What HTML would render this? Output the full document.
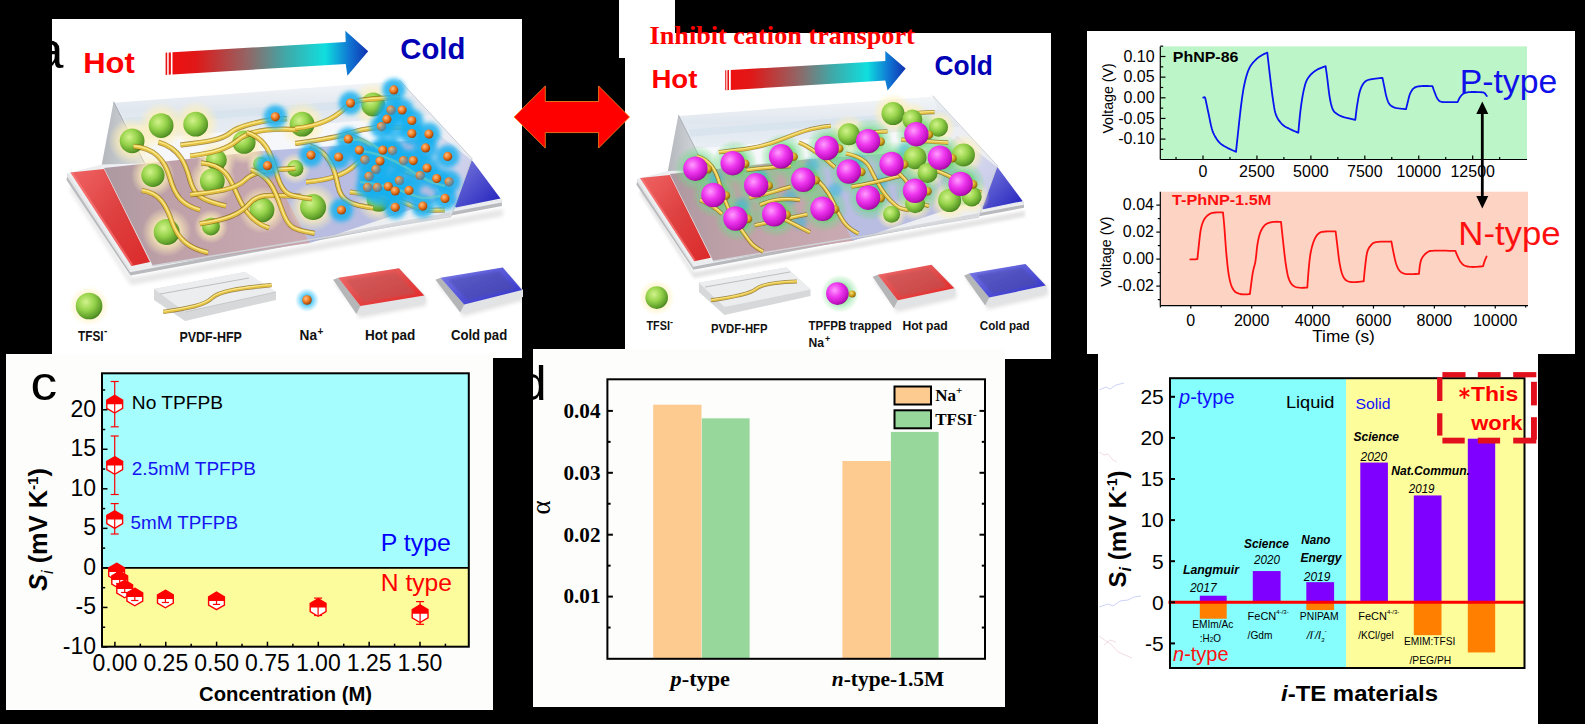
<!DOCTYPE html>
<html><head><meta charset="utf-8"><title>Figure</title>
<style>html,body{margin:0;padding:0;background:#000;width:1585px;height:724px;overflow:hidden}svg{display:block}text{white-space:pre}</style>
</head><body>
<svg width="1585" height="724" viewBox="0 0 1585 724"><rect x="0.00" y="0.00" width="1585.00" height="724.00" fill="#000" />
<rect x="52.00" y="19.00" width="470.00" height="339.00" fill="#fff" />
<rect x="619.00" y="0.00" width="56.00" height="58.00" fill="#fff" />
<rect x="625.00" y="33.00" width="426.00" height="326.00" fill="#fff" />
<rect x="1087.00" y="31.00" width="488.00" height="323.00" fill="#fff" />
<rect x="6.00" y="354.00" width="487.00" height="356.00" fill="#fdfdfb" />
<rect x="533.00" y="349.00" width="472.00" height="358.00" fill="#fdfdfb" />
<rect x="1098.00" y="354.00" width="440.00" height="370.00" fill="#fff" />
<rect x="102.00" y="373.30" width="366.80" height="194.60" fill="#a6fdfd" />
<rect x="102.00" y="567.90" width="366.80" height="78.80" fill="#fcfc9c" />
<line x1="102.00" y1="567.90" x2="468.80" y2="567.90" stroke="#000" stroke-width="1.7" />
<line x1="102.00" y1="646.98" x2="107.50" y2="646.98" stroke="#000" stroke-width="1.5" />
<text x="96.0" y="654.0" font-family="Liberation Sans" font-size="23" fill="#000" text-anchor="end">-10</text>
<line x1="102.00" y1="607.44" x2="107.50" y2="607.44" stroke="#000" stroke-width="1.5" />
<text x="96.0" y="614.4" font-family="Liberation Sans" font-size="23" fill="#000" text-anchor="end">-5</text>
<line x1="102.00" y1="567.90" x2="107.50" y2="567.90" stroke="#000" stroke-width="1.5" />
<text x="96.0" y="574.9" font-family="Liberation Sans" font-size="23" fill="#000" text-anchor="end">0</text>
<line x1="102.00" y1="528.36" x2="107.50" y2="528.36" stroke="#000" stroke-width="1.5" />
<text x="96.0" y="535.4" font-family="Liberation Sans" font-size="23" fill="#000" text-anchor="end">5</text>
<line x1="102.00" y1="488.82" x2="107.50" y2="488.82" stroke="#000" stroke-width="1.5" />
<text x="96.0" y="495.8" font-family="Liberation Sans" font-size="23" fill="#000" text-anchor="end">10</text>
<line x1="102.00" y1="449.28" x2="107.50" y2="449.28" stroke="#000" stroke-width="1.5" />
<text x="96.0" y="456.3" font-family="Liberation Sans" font-size="23" fill="#000" text-anchor="end">15</text>
<line x1="102.00" y1="409.74" x2="107.50" y2="409.74" stroke="#000" stroke-width="1.5" />
<text x="96.0" y="416.7" font-family="Liberation Sans" font-size="23" fill="#000" text-anchor="end">20</text>
<line x1="102.00" y1="627.21" x2="105.20" y2="627.21" stroke="#000" stroke-width="1.5" />
<line x1="102.00" y1="587.67" x2="105.20" y2="587.67" stroke="#000" stroke-width="1.5" />
<line x1="102.00" y1="548.13" x2="105.20" y2="548.13" stroke="#000" stroke-width="1.5" />
<line x1="102.00" y1="508.59" x2="105.20" y2="508.59" stroke="#000" stroke-width="1.5" />
<line x1="102.00" y1="469.05" x2="105.20" y2="469.05" stroke="#000" stroke-width="1.5" />
<line x1="102.00" y1="429.51" x2="105.20" y2="429.51" stroke="#000" stroke-width="1.5" />
<line x1="102.00" y1="389.97" x2="105.20" y2="389.97" stroke="#000" stroke-width="1.5" />
<line x1="114.90" y1="646.70" x2="114.90" y2="641.70" stroke="#000" stroke-width="1.5" />
<text x="114.9" y="671.0" font-family="Liberation Sans" font-size="23" fill="#000" text-anchor="middle">0.00</text>
<line x1="165.75" y1="646.70" x2="165.75" y2="641.70" stroke="#000" stroke-width="1.5" />
<text x="165.8" y="671.0" font-family="Liberation Sans" font-size="23" fill="#000" text-anchor="middle">0.25</text>
<line x1="216.60" y1="646.70" x2="216.60" y2="641.70" stroke="#000" stroke-width="1.5" />
<text x="216.6" y="671.0" font-family="Liberation Sans" font-size="23" fill="#000" text-anchor="middle">0.50</text>
<line x1="267.45" y1="646.70" x2="267.45" y2="641.70" stroke="#000" stroke-width="1.5" />
<text x="267.5" y="671.0" font-family="Liberation Sans" font-size="23" fill="#000" text-anchor="middle">0.75</text>
<line x1="318.30" y1="646.70" x2="318.30" y2="641.70" stroke="#000" stroke-width="1.5" />
<text x="318.3" y="671.0" font-family="Liberation Sans" font-size="23" fill="#000" text-anchor="middle">1.00</text>
<line x1="369.15" y1="646.70" x2="369.15" y2="641.70" stroke="#000" stroke-width="1.5" />
<text x="369.1" y="671.0" font-family="Liberation Sans" font-size="23" fill="#000" text-anchor="middle">1.25</text>
<line x1="420.00" y1="646.70" x2="420.00" y2="641.70" stroke="#000" stroke-width="1.5" />
<text x="420.0" y="671.0" font-family="Liberation Sans" font-size="23" fill="#000" text-anchor="middle">1.50</text>
<line x1="140.33" y1="646.70" x2="140.33" y2="643.70" stroke="#000" stroke-width="1.5" />
<line x1="191.18" y1="646.70" x2="191.18" y2="643.70" stroke="#000" stroke-width="1.5" />
<line x1="242.03" y1="646.70" x2="242.03" y2="643.70" stroke="#000" stroke-width="1.5" />
<line x1="292.88" y1="646.70" x2="292.88" y2="643.70" stroke="#000" stroke-width="1.5" />
<line x1="343.73" y1="646.70" x2="343.73" y2="643.70" stroke="#000" stroke-width="1.5" />
<line x1="394.58" y1="646.70" x2="394.58" y2="643.70" stroke="#000" stroke-width="1.5" />
<line x1="445.43" y1="646.70" x2="445.43" y2="643.70" stroke="#000" stroke-width="1.5" />
<rect x="102.0" y="373.3" width="366.8" height="273.4" fill="none" stroke="#000" stroke-width="2"/>
<line x1="110.70" y1="381.50" x2="118.70" y2="381.50" stroke="#ff0000" stroke-width="1.2" />
<line x1="110.70" y1="426.80" x2="118.70" y2="426.80" stroke="#ff0000" stroke-width="1.2" />
<polygon points="114.7,395.4 122.6,400.1 122.6,408.3 114.7,413.0 106.8,408.3 106.8,400.1" fill="#fff" stroke="#ff0000" stroke-width="1.4"/>
<polygon points="114.7,395.4 122.6,400.1 122.6,404.2 106.8,404.2 106.8,400.1" fill="#ff0000" />
<line x1="114.70" y1="381.50" x2="114.70" y2="426.80" stroke="#ff0000" stroke-width="1.2" />
<line x1="110.70" y1="436.00" x2="118.70" y2="436.00" stroke="#ff0000" stroke-width="1.2" />
<line x1="110.70" y1="494.50" x2="118.70" y2="494.50" stroke="#ff0000" stroke-width="1.2" />
<polygon points="114.7,456.7 122.6,461.4 122.6,469.6 114.7,474.3 106.8,469.6 106.8,461.4" fill="#fff" stroke="#ff0000" stroke-width="1.4"/>
<polygon points="114.7,456.7 122.6,461.4 122.6,465.5 106.8,465.5 106.8,461.4" fill="#ff0000" />
<line x1="114.70" y1="436.00" x2="114.70" y2="494.50" stroke="#ff0000" stroke-width="1.2" />
<line x1="110.70" y1="503.60" x2="118.70" y2="503.60" stroke="#ff0000" stroke-width="1.2" />
<line x1="110.70" y1="534.00" x2="118.70" y2="534.00" stroke="#ff0000" stroke-width="1.2" />
<polygon points="114.7,510.8 122.6,515.5 122.6,523.7 114.7,528.4 106.8,523.7 106.8,515.5" fill="#fff" stroke="#ff0000" stroke-width="1.4"/>
<polygon points="114.7,510.8 122.6,515.5 122.6,519.6 106.8,519.6 106.8,515.5" fill="#ff0000" />
<line x1="114.70" y1="503.60" x2="114.70" y2="534.00" stroke="#ff0000" stroke-width="1.2" />
<polygon points="116.6,563.2 124.5,567.9 124.5,576.1 116.6,580.8 108.7,576.1 108.7,567.9" fill="#fff" stroke="#ff0000" stroke-width="1.4"/>
<polygon points="116.6,563.2 124.5,567.9 124.5,572.0 108.7,572.0 108.7,567.9" fill="#ff0000" />
<line x1="116.60" y1="572.00" x2="116.60" y2="575.50" stroke="#ff0000" stroke-width="1.2" />
<line x1="113.00" y1="575.50" x2="120.20" y2="575.50" stroke="#ff0000" stroke-width="1.2" />
<polygon points="119.7,571.2 127.6,575.9 127.6,584.1 119.7,588.8 111.8,584.1 111.8,575.9" fill="#fff" stroke="#ff0000" stroke-width="1.4"/>
<polygon points="119.7,571.2 127.6,575.9 127.6,580.0 111.8,580.0 111.8,575.9" fill="#ff0000" />
<line x1="119.70" y1="580.00" x2="119.70" y2="583.50" stroke="#ff0000" stroke-width="1.2" />
<line x1="116.10" y1="583.50" x2="123.30" y2="583.50" stroke="#ff0000" stroke-width="1.2" />
<polygon points="124.7,580.2 132.6,584.9 132.6,593.1 124.7,597.8 116.8,593.1 116.8,584.9" fill="#fff" stroke="#ff0000" stroke-width="1.4"/>
<polygon points="124.7,580.2 132.6,584.9 132.6,589.0 116.8,589.0 116.8,584.9" fill="#ff0000" />
<line x1="124.70" y1="589.00" x2="124.70" y2="592.50" stroke="#ff0000" stroke-width="1.2" />
<line x1="121.10" y1="592.50" x2="128.30" y2="592.50" stroke="#ff0000" stroke-width="1.2" />
<polygon points="134.8,588.2 142.7,592.9 142.7,601.1 134.8,605.8 126.9,601.1 126.9,592.9" fill="#fff" stroke="#ff0000" stroke-width="1.4"/>
<polygon points="134.8,588.2 142.7,592.9 142.7,597.0 126.9,597.0 126.9,592.9" fill="#ff0000" />
<line x1="134.80" y1="597.00" x2="134.80" y2="600.50" stroke="#ff0000" stroke-width="1.2" />
<line x1="131.20" y1="600.50" x2="138.40" y2="600.50" stroke="#ff0000" stroke-width="1.2" />
<polygon points="165.4,590.2 173.3,594.9 173.3,603.1 165.4,607.8 157.5,603.1 157.5,594.9" fill="#fff" stroke="#ff0000" stroke-width="1.4"/>
<polygon points="165.4,590.2 173.3,594.9 173.3,599.0 157.5,599.0 157.5,594.9" fill="#ff0000" />
<line x1="165.40" y1="599.00" x2="165.40" y2="602.50" stroke="#ff0000" stroke-width="1.2" />
<line x1="161.80" y1="602.50" x2="169.00" y2="602.50" stroke="#ff0000" stroke-width="1.2" />
<polygon points="216.5,592.1 224.4,596.8 224.4,605.0 216.5,609.7 208.6,605.0 208.6,596.8" fill="#fff" stroke="#ff0000" stroke-width="1.4"/>
<polygon points="216.5,592.1 224.4,596.8 224.4,600.9 208.6,600.9 208.6,596.8" fill="#ff0000" />
<line x1="216.50" y1="600.90" x2="216.50" y2="604.40" stroke="#ff0000" stroke-width="1.2" />
<line x1="212.90" y1="604.40" x2="220.10" y2="604.40" stroke="#ff0000" stroke-width="1.2" />
<line x1="314.10" y1="598.10" x2="322.10" y2="598.10" stroke="#ff0000" stroke-width="1.2" />
<line x1="314.10" y1="615.50" x2="322.10" y2="615.50" stroke="#ff0000" stroke-width="1.2" />
<polygon points="318.1,598.7 326.0,603.4 326.0,611.6 318.1,616.3 310.2,611.6 310.2,603.4" fill="#fff" stroke="#ff0000" stroke-width="1.4"/>
<polygon points="318.1,598.7 326.0,603.4 326.0,607.5 310.2,607.5 310.2,603.4" fill="#ff0000" />
<line x1="318.10" y1="598.10" x2="318.10" y2="615.50" stroke="#ff0000" stroke-width="1.2" />
<line x1="416.10" y1="601.60" x2="424.10" y2="601.60" stroke="#ff0000" stroke-width="1.2" />
<line x1="416.10" y1="624.30" x2="424.10" y2="624.30" stroke="#ff0000" stroke-width="1.2" />
<polygon points="420.1,604.9 428.0,609.6 428.0,617.8 420.1,622.5 412.2,617.8 412.2,609.6" fill="#fff" stroke="#ff0000" stroke-width="1.4"/>
<polygon points="420.1,604.9 428.0,609.6 428.0,613.7 412.2,613.7 412.2,609.6" fill="#ff0000" />
<line x1="420.10" y1="601.60" x2="420.10" y2="624.30" stroke="#ff0000" stroke-width="1.2" />
<text x="131.8" y="409.0" font-family="Liberation Sans" font-size="18" fill="#000" textLength="91.2" lengthAdjust="spacingAndGlyphs">No TPFPB</text>
<text x="131.8" y="474.6" font-family="Liberation Sans" font-size="18" fill="#1414f0" textLength="124.2" lengthAdjust="spacingAndGlyphs">2.5mM TPFPB</text>
<text x="130.5" y="528.5" font-family="Liberation Sans" font-size="18" fill="#1414f0" textLength="107.5" lengthAdjust="spacingAndGlyphs">5mM TPFPB</text>
<text x="380.8" y="550.9" font-family="Liberation Sans" font-size="24" fill="#0000ff" textLength="70.0" lengthAdjust="spacingAndGlyphs">P type</text>
<text x="380.8" y="591.3" font-family="Liberation Sans" font-size="24" fill="#ff0000" textLength="71.2" lengthAdjust="spacingAndGlyphs">N type</text>
<text x="30.4" y="400.3" font-family="Liberation Sans" font-size="49" fill="#000" textLength="26.7" lengthAdjust="spacingAndGlyphs">c</text>
<text x="285.6" y="700.8" font-family="Liberation Sans" font-size="20.8" fill="#000" font-weight="bold" text-anchor="middle" textLength="173.0" lengthAdjust="spacingAndGlyphs">Concentration (M)</text>
<text transform="translate(47.3,529.5) rotate(-90)" text-anchor="middle" font-family="Liberation Sans" font-weight="bold" font-size="25" fill="#000" textLength="123" lengthAdjust="spacingAndGlyphs"><tspan font-style="italic">S</tspan><tspan font-style="italic" font-weight="normal" font-size="16" dy="6">i</tspan><tspan dy="-6"> (mV K</tspan><tspan font-size="15" dy="-9">-1</tspan><tspan dy="9">)</tspan></text>
<rect x="607.4" y="379.3" width="377.6" height="279.5" fill="#fdfdfb" stroke="none"/>
<rect x="653.20" y="404.71" width="48.30" height="254.09" fill="#fdca90" />
<rect x="701.90" y="418.33" width="47.70" height="240.47" fill="#97d79b" />
<rect x="842.40" y="461.00" width="48.20" height="197.80" fill="#fdca90" />
<rect x="890.90" y="431.90" width="47.70" height="226.90" fill="#97d79b" />
<rect x="607.4" y="379.3" width="377.6" height="279.5" fill="none" stroke="#000" stroke-width="2"/>
<line x1="607.40" y1="596.60" x2="612.90" y2="596.60" stroke="#000" stroke-width="2" />
<line x1="985.00" y1="596.60" x2="979.50" y2="596.60" stroke="#000" stroke-width="2" />
<text x="600.5" y="603.4" font-family="Liberation Serif" font-size="20.5" fill="#000" font-weight="bold" text-anchor="end" textLength="37.0" lengthAdjust="spacingAndGlyphs">0.01</text>
<line x1="607.40" y1="534.70" x2="612.90" y2="534.70" stroke="#000" stroke-width="2" />
<line x1="985.00" y1="534.70" x2="979.50" y2="534.70" stroke="#000" stroke-width="2" />
<text x="600.5" y="541.5" font-family="Liberation Serif" font-size="20.5" fill="#000" font-weight="bold" text-anchor="end" textLength="37.0" lengthAdjust="spacingAndGlyphs">0.02</text>
<line x1="607.40" y1="472.80" x2="612.90" y2="472.80" stroke="#000" stroke-width="2" />
<line x1="985.00" y1="472.80" x2="979.50" y2="472.80" stroke="#000" stroke-width="2" />
<text x="600.5" y="479.6" font-family="Liberation Serif" font-size="20.5" fill="#000" font-weight="bold" text-anchor="end" textLength="37.0" lengthAdjust="spacingAndGlyphs">0.03</text>
<line x1="607.40" y1="410.90" x2="612.90" y2="410.90" stroke="#000" stroke-width="2" />
<line x1="985.00" y1="410.90" x2="979.50" y2="410.90" stroke="#000" stroke-width="2" />
<text x="600.5" y="417.7" font-family="Liberation Serif" font-size="20.5" fill="#000" font-weight="bold" text-anchor="end" textLength="37.0" lengthAdjust="spacingAndGlyphs">0.04</text>
<line x1="607.40" y1="627.55" x2="610.60" y2="627.55" stroke="#000" stroke-width="2" />
<line x1="985.00" y1="627.55" x2="981.80" y2="627.55" stroke="#000" stroke-width="2" />
<line x1="607.40" y1="565.65" x2="610.60" y2="565.65" stroke="#000" stroke-width="2" />
<line x1="985.00" y1="565.65" x2="981.80" y2="565.65" stroke="#000" stroke-width="2" />
<line x1="607.40" y1="503.75" x2="610.60" y2="503.75" stroke="#000" stroke-width="2" />
<line x1="985.00" y1="503.75" x2="981.80" y2="503.75" stroke="#000" stroke-width="2" />
<line x1="607.40" y1="441.85" x2="610.60" y2="441.85" stroke="#000" stroke-width="2" />
<line x1="985.00" y1="441.85" x2="981.80" y2="441.85" stroke="#000" stroke-width="2" />
<rect x="894.5" y="386.5" width="36.5" height="18" fill="#fdca90" stroke="#000" stroke-width="2"/>
<rect x="894.5" y="410.3" width="36.5" height="18" fill="#97d79b" stroke="#000" stroke-width="2"/>
<text x="935.2" y="401.2" font-family="Liberation Serif" font-weight="bold" font-size="17" fill="#000">Na<tspan font-size="11" dy="-7">+</tspan></text>
<text x="935.2" y="424.5" font-family="Liberation Serif" font-weight="bold" font-size="17" fill="#000">TFSI<tspan font-size="11" dy="-7">-</tspan></text>
<text x="670.6" y="685.6" font-family="Liberation Serif" font-weight="bold" font-size="21" fill="#000" textLength="59.4" lengthAdjust="spacingAndGlyphs"><tspan font-style="italic">p</tspan>-type</text>
<text x="831.8" y="685.6" font-family="Liberation Serif" font-weight="bold" font-size="21" fill="#000" textLength="112.4" lengthAdjust="spacingAndGlyphs"><tspan font-style="italic">n</tspan>-type-1.5M</text>
<text transform="translate(550,507.5) rotate(-90)" text-anchor="middle" font-family="Liberation Serif" font-size="27" fill="#000">α</text>
<text x="519.2" y="400.0" font-family="Liberation Sans" font-size="49" fill="#000">d</text>
<rect x="1170.00" y="378.20" width="176.00" height="289.80" fill="#86fefe" />
<rect x="1346.00" y="378.20" width="178.50" height="289.80" fill="#fdfd9c" />
<rect x="1199.80" y="595.72" width="26.90" height="6.58" fill="#8000ff" />
<rect x="1199.80" y="602.30" width="26.90" height="16.44" fill="#ff8000" />
<rect x="1252.80" y="571.06" width="27.80" height="31.24" fill="#8000ff" />
<rect x="1306.30" y="582.16" width="27.80" height="20.14" fill="#8000ff" />
<rect x="1306.30" y="602.30" width="27.80" height="7.81" fill="#ff8000" />
<rect x="1360.30" y="462.56" width="27.60" height="139.74" fill="#8000ff" />
<rect x="1413.80" y="495.44" width="27.70" height="106.86" fill="#8000ff" />
<rect x="1413.80" y="602.30" width="27.70" height="32.88" fill="#ff8000" />
<rect x="1467.80" y="438.72" width="27.40" height="163.58" fill="#8000ff" />
<rect x="1467.80" y="602.30" width="27.40" height="50.14" fill="#ff8000" />
<line x1="1168.50" y1="602.30" x2="1524.50" y2="602.30" stroke="#ff0000" stroke-width="3" />
<rect x="1170.0" y="378.2" width="354.5" height="289.8" fill="none" stroke="#000" stroke-width="2"/>
<line x1="1170.00" y1="643.40" x2="1175.00" y2="643.40" stroke="#000" stroke-width="2" />
<text x="1163.8" y="650.7" font-family="Liberation Sans" font-size="21" fill="#000" text-anchor="end">-5</text>
<line x1="1170.00" y1="602.30" x2="1175.00" y2="602.30" stroke="#000" stroke-width="2" />
<text x="1163.8" y="609.6" font-family="Liberation Sans" font-size="21" fill="#000" text-anchor="end">0</text>
<line x1="1170.00" y1="561.20" x2="1175.00" y2="561.20" stroke="#000" stroke-width="2" />
<text x="1163.8" y="568.5" font-family="Liberation Sans" font-size="21" fill="#000" text-anchor="end">5</text>
<line x1="1170.00" y1="520.10" x2="1175.00" y2="520.10" stroke="#000" stroke-width="2" />
<text x="1163.8" y="527.4" font-family="Liberation Sans" font-size="21" fill="#000" text-anchor="end">10</text>
<line x1="1170.00" y1="479.00" x2="1175.00" y2="479.00" stroke="#000" stroke-width="2" />
<text x="1163.8" y="486.3" font-family="Liberation Sans" font-size="21" fill="#000" text-anchor="end">15</text>
<line x1="1170.00" y1="437.90" x2="1175.00" y2="437.90" stroke="#000" stroke-width="2" />
<text x="1163.8" y="445.2" font-family="Liberation Sans" font-size="21" fill="#000" text-anchor="end">20</text>
<line x1="1170.00" y1="396.80" x2="1175.00" y2="396.80" stroke="#000" stroke-width="2" />
<text x="1163.8" y="404.1" font-family="Liberation Sans" font-size="21" fill="#000" text-anchor="end">25</text>
<text x="1179" y="404.2" font-family="Liberation Sans" font-size="20" fill="#1010ff"><tspan font-style="italic">p</tspan>-type</text>
<text x="1173" y="661.3" font-family="Liberation Sans" font-size="20" fill="#ff1010"><tspan font-style="italic">n</tspan>-type</text>
<text x="1285.9" y="407.7" font-family="Liberation Sans" font-size="17" fill="#000" textLength="48.6" lengthAdjust="spacingAndGlyphs">Liquid</text>
<text x="1355.6" y="408.8" font-family="Liberation Sans" font-size="15.5" fill="#1010ff" textLength="35.0" lengthAdjust="spacingAndGlyphs">Solid</text>
<text x="1182.9" y="573.5" font-family="Liberation Sans" font-size="12.5" fill="#000" font-weight="bold" font-style="italic" textLength="56.2" lengthAdjust="spacingAndGlyphs">Langmuir</text>
<text x="1189.9" y="592.1" font-family="Liberation Sans" font-size="12.5" fill="#000" font-style="italic" textLength="26.8" lengthAdjust="spacingAndGlyphs">2017</text>
<text x="1244.0" y="547.9" font-family="Liberation Sans" font-size="12.5" fill="#000" font-weight="bold" font-style="italic" textLength="44.9" lengthAdjust="spacingAndGlyphs">Science</text>
<text x="1254.0" y="563.5" font-family="Liberation Sans" font-size="12.5" fill="#000" font-style="italic" textLength="25.9" lengthAdjust="spacingAndGlyphs">2020</text>
<text x="1301.3" y="543.6" font-family="Liberation Sans" font-size="12.5" fill="#000" font-weight="bold" font-style="italic" textLength="29.1" lengthAdjust="spacingAndGlyphs">Nano</text>
<text x="1300.5" y="562.3" font-family="Liberation Sans" font-size="12.5" fill="#000" font-weight="bold" font-style="italic" textLength="41.1" lengthAdjust="spacingAndGlyphs">Energy</text>
<text x="1303.8" y="581.0" font-family="Liberation Sans" font-size="12.5" fill="#000" font-style="italic" textLength="26.6" lengthAdjust="spacingAndGlyphs">2019</text>
<text x="1353.6" y="441.4" font-family="Liberation Sans" font-size="12.5" fill="#000" font-weight="bold" font-style="italic" textLength="45.4" lengthAdjust="spacingAndGlyphs">Science</text>
<text x="1360.5" y="460.6" font-family="Liberation Sans" font-size="12.5" fill="#000" font-style="italic" textLength="26.7" lengthAdjust="spacingAndGlyphs">2020</text>
<text x="1391.2" y="474.5" font-family="Liberation Sans" font-size="12.5" fill="#000" font-weight="bold" font-style="italic" textLength="78.7" lengthAdjust="spacingAndGlyphs">Nat.Commun.</text>
<text x="1408.8" y="492.8" font-family="Liberation Sans" font-size="12.5" fill="#000" font-style="italic" textLength="25.7" lengthAdjust="spacingAndGlyphs">2019</text>
<text x="1192.3" y="628.2" font-family="Liberation Sans" font-size="11" fill="#000" textLength="41.1" lengthAdjust="spacingAndGlyphs">EMIm/Ac</text>
<text x="1199.8" y="642.4" font-family="Liberation Sans" font-size="11" fill="#000" textLength="21.2" lengthAdjust="spacingAndGlyphs">:H<tspan font-size="7">2</tspan>O</text>
<text x="1247.6" y="620" font-family="Liberation Sans" font-size="11" fill="#000">FeCN<tspan font-size="6" dy="-6">4-/3-</tspan></text>
<text x="1247.6" y="639.0" font-family="Liberation Sans" font-size="11" fill="#000" textLength="24.8" lengthAdjust="spacingAndGlyphs">/Gdm</text>
<text x="1299.8" y="619.5" font-family="Liberation Sans" font-size="11" fill="#000" textLength="38.8" lengthAdjust="spacingAndGlyphs">PNIPAM</text>
<text x="1306.8" y="639" font-family="Liberation Sans" font-size="11" font-style="italic" fill="#000">/I<tspan font-size="6" dy="-6">-</tspan><tspan dy="6">/I</tspan><tspan font-size="6" dy="3">3</tspan><tspan font-size="6" dy="-9">-</tspan></text>
<text x="1358.2" y="620" font-family="Liberation Sans" font-size="11" fill="#000">FeCN<tspan font-size="6" dy="-6">4-/3-</tspan></text>
<text x="1358.2" y="638.6" font-family="Liberation Sans" font-size="11" fill="#000" textLength="35.5" lengthAdjust="spacingAndGlyphs">/KCl/gel</text>
<text x="1404.0" y="645.0" font-family="Liberation Sans" font-size="11" fill="#000" textLength="51.4" lengthAdjust="spacingAndGlyphs">EMIM:TFSI</text>
<text x="1409.5" y="663.5" font-family="Liberation Sans" font-size="11" fill="#000" textLength="41.7" lengthAdjust="spacingAndGlyphs">/PEG/PH</text>
<text x="1471.0" y="401.2" font-family="Liberation Sans" font-size="21" fill="#ff0000" font-weight="bold" textLength="47.2" lengthAdjust="spacingAndGlyphs">This</text>
<line x1="1464.40" y1="387.60" x2="1464.40" y2="398.80" stroke="#ff0000" stroke-width="1.9" />
<line x1="1459.55" y1="390.40" x2="1469.25" y2="396.00" stroke="#ff0000" stroke-width="1.9" />
<line x1="1469.25" y1="390.40" x2="1459.55" y2="396.00" stroke="#ff0000" stroke-width="1.9" />
<text x="1471.2" y="429.8" font-family="Liberation Sans" font-size="21" fill="#ff0000" font-weight="bold" textLength="51.2" lengthAdjust="spacingAndGlyphs">work</text>
<rect x="1442.40" y="372.10" width="23.10" height="5.20" fill="#e2101c" />
<rect x="1477.80" y="372.10" width="22.80" height="5.20" fill="#e2101c" />
<rect x="1513.20" y="372.10" width="23.10" height="5.20" fill="#e2101c" />
<rect x="1437.10" y="377.30" width="5.30" height="23.70" fill="#e2101c" />
<rect x="1437.10" y="413.30" width="5.30" height="22.30" fill="#e2101c" />
<rect x="1442.40" y="437.70" width="22.30" height="5.80" fill="#e2101c" />
<rect x="1477.80" y="437.70" width="22.30" height="5.80" fill="#e2101c" />
<rect x="1513.20" y="437.70" width="23.10" height="5.80" fill="#e2101c" />
<rect x="1531.00" y="381.80" width="5.90" height="23.60" fill="#e2101c" />
<rect x="1531.00" y="417.20" width="5.90" height="22.40" fill="#e2101c" />
<text x="1281.0" y="700.5" font-family="Liberation Sans" font-size="22" fill="#000" font-weight="bold" textLength="157.0" lengthAdjust="spacingAndGlyphs"><tspan font-style="italic">i</tspan>-TE materials</text>
<text transform="translate(1125.5,529) rotate(-90)" text-anchor="middle" font-family="Liberation Sans" font-weight="bold" font-size="24" fill="#000" textLength="117" lengthAdjust="spacingAndGlyphs">S<tspan font-style="italic" font-size="16" dy="5">i</tspan><tspan dy="-5"> (mV K</tspan><tspan font-size="14" dy="-9">-1</tspan><tspan dy="9">)</tspan></text>
<rect x="1160.30" y="46.40" width="366.70" height="113.10" fill="#bcf5c8" />
<line x1="1160.30" y1="46.40" x2="1160.30" y2="159.50" stroke="#000" stroke-width="1.2" />
<line x1="1160.30" y1="159.50" x2="1527.00" y2="159.50" stroke="#000" stroke-width="1.2" />
<line x1="1160.30" y1="139.10" x2="1165.50" y2="139.10" stroke="#000" stroke-width="1.2" />
<text x="1154.6" y="144.3" font-family="Liberation Sans" font-size="16" fill="#000" text-anchor="end">-0.10</text>
<line x1="1160.30" y1="118.45" x2="1165.50" y2="118.45" stroke="#000" stroke-width="1.2" />
<text x="1154.6" y="123.7" font-family="Liberation Sans" font-size="16" fill="#000" text-anchor="end">-0.05</text>
<line x1="1160.30" y1="97.80" x2="1165.50" y2="97.80" stroke="#000" stroke-width="1.2" />
<text x="1154.6" y="103.0" font-family="Liberation Sans" font-size="16" fill="#000" text-anchor="end">0.00</text>
<line x1="1160.30" y1="77.15" x2="1165.50" y2="77.15" stroke="#000" stroke-width="1.2" />
<text x="1154.6" y="82.3" font-family="Liberation Sans" font-size="16" fill="#000" text-anchor="end">0.05</text>
<line x1="1160.30" y1="56.50" x2="1165.50" y2="56.50" stroke="#000" stroke-width="1.2" />
<text x="1154.6" y="61.7" font-family="Liberation Sans" font-size="16" fill="#000" text-anchor="end">0.10</text>
<line x1="1160.30" y1="149.43" x2="1163.20" y2="149.43" stroke="#000" stroke-width="1.2" />
<line x1="1160.30" y1="128.78" x2="1163.20" y2="128.78" stroke="#000" stroke-width="1.2" />
<line x1="1160.30" y1="108.12" x2="1163.20" y2="108.12" stroke="#000" stroke-width="1.2" />
<line x1="1160.30" y1="87.47" x2="1163.20" y2="87.47" stroke="#000" stroke-width="1.2" />
<line x1="1160.30" y1="66.83" x2="1163.20" y2="66.83" stroke="#000" stroke-width="1.2" />
<line x1="1160.30" y1="46.17" x2="1163.20" y2="46.17" stroke="#000" stroke-width="1.2" />
<line x1="1203.00" y1="159.50" x2="1203.00" y2="155.50" stroke="#000" stroke-width="1.2" />
<text x="1203.0" y="176.5" font-family="Liberation Sans" font-size="16" fill="#000" text-anchor="middle">0</text>
<line x1="1256.94" y1="159.50" x2="1256.94" y2="155.50" stroke="#000" stroke-width="1.2" />
<text x="1256.9" y="176.5" font-family="Liberation Sans" font-size="16" fill="#000" text-anchor="middle">2500</text>
<line x1="1310.88" y1="159.50" x2="1310.88" y2="155.50" stroke="#000" stroke-width="1.2" />
<text x="1310.9" y="176.5" font-family="Liberation Sans" font-size="16" fill="#000" text-anchor="middle">5000</text>
<line x1="1364.81" y1="159.50" x2="1364.81" y2="155.50" stroke="#000" stroke-width="1.2" />
<text x="1364.8" y="176.5" font-family="Liberation Sans" font-size="16" fill="#000" text-anchor="middle">7500</text>
<line x1="1418.75" y1="159.50" x2="1418.75" y2="155.50" stroke="#000" stroke-width="1.2" />
<text x="1418.8" y="176.5" font-family="Liberation Sans" font-size="16" fill="#000" text-anchor="middle">10000</text>
<line x1="1472.69" y1="159.50" x2="1472.69" y2="155.50" stroke="#000" stroke-width="1.2" />
<text x="1472.7" y="176.5" font-family="Liberation Sans" font-size="16" fill="#000" text-anchor="middle">12500</text>
<line x1="1176.03" y1="159.50" x2="1176.03" y2="157.00" stroke="#000" stroke-width="1.2" />
<line x1="1229.97" y1="159.50" x2="1229.97" y2="157.00" stroke="#000" stroke-width="1.2" />
<line x1="1283.91" y1="159.50" x2="1283.91" y2="157.00" stroke="#000" stroke-width="1.2" />
<line x1="1337.84" y1="159.50" x2="1337.84" y2="157.00" stroke="#000" stroke-width="1.2" />
<line x1="1391.78" y1="159.50" x2="1391.78" y2="157.00" stroke="#000" stroke-width="1.2" />
<line x1="1445.72" y1="159.50" x2="1445.72" y2="157.00" stroke="#000" stroke-width="1.2" />
<line x1="1499.66" y1="159.50" x2="1499.66" y2="157.00" stroke="#000" stroke-width="1.2" />
<text x="1172.8" y="61.9" font-family="Liberation Sans" font-size="15" fill="#000" font-weight="bold" textLength="65.6" lengthAdjust="spacingAndGlyphs">PhNP-86</text>
<text transform="translate(1112.6,98.4) rotate(-90)" text-anchor="middle" font-family="Liberation Sans" font-size="14" fill="#000" textLength="70.4" lengthAdjust="spacingAndGlyphs">Voltage (V)</text>
<path d="M1203.30,97.60 L1203.45,97.54 L1203.66,97.44 L1203.91,97.34 L1204.16,97.24 L1204.40,97.19 L1204.60,97.20 L1204.76,97.30 L1204.90,97.47 L1205.03,97.67 L1205.14,97.89 L1205.23,98.08 L1205.30,98.20 L1205.64,99.82 L1206.10,102.03 L1206.65,104.66 L1207.26,107.53 L1207.88,110.47 L1208.50,113.30 L1209.09,116.15 L1209.69,119.19 L1210.31,122.30 L1210.97,125.35 L1211.69,128.23 L1212.50,130.80 L1213.40,133.08 L1214.37,135.18 L1215.40,137.09 L1216.49,138.84 L1217.62,140.44 L1218.80,141.90 L1220.02,143.17 L1221.30,144.22 L1222.62,145.12 L1223.98,145.93 L1225.38,146.71 L1226.80,147.50 L1228.37,148.34 L1230.12,149.19 L1231.90,150.00 L1233.57,150.73 L1234.99,151.35 L1236.00,151.80 L1236.19,149.99 L1236.44,147.59 L1236.75,144.69 L1237.10,141.39 L1237.49,137.80 L1237.90,134.00 L1238.36,129.77 L1238.87,124.97 L1239.42,119.88 L1239.99,114.75 L1240.55,109.83 L1241.10,105.40 L1241.62,101.44 L1242.11,97.74 L1242.61,94.26 L1243.12,90.95 L1243.68,87.78 L1244.30,84.70 L1244.98,81.69 L1245.69,78.78 L1246.45,76.00 L1247.25,73.39 L1248.10,70.98 L1249.00,68.80 L1249.97,66.89 L1251.01,65.22 L1252.10,63.76 L1253.21,62.44 L1254.32,61.24 L1255.40,60.10 L1256.46,59.05 L1257.53,58.13 L1258.60,57.33 L1259.66,56.60 L1260.69,55.93 L1261.70,55.30 L1262.74,54.70 L1263.83,54.14 L1264.89,53.65 L1265.87,53.22 L1266.70,52.87 L1267.30,52.60 L1267.55,54.83 L1267.89,57.88 L1268.30,61.51 L1268.75,65.50 L1269.23,69.60 L1269.70,73.60 L1270.19,77.69 L1270.71,82.09 L1271.26,86.62 L1271.81,91.07 L1272.36,95.27 L1272.90,99.00 L1273.38,102.27 L1273.82,105.24 L1274.25,107.94 L1274.73,110.42 L1275.29,112.72 L1276.00,114.90 L1276.86,116.92 L1277.83,118.75 L1278.90,120.40 L1280.03,121.90 L1281.21,123.26 L1282.40,124.50 L1283.63,125.58 L1284.92,126.47 L1286.25,127.23 L1287.60,127.90 L1288.96,128.54 L1290.30,129.20 L1291.72,129.89 L1293.26,130.59 L1294.79,131.24 L1296.22,131.84 L1297.43,132.33 L1298.30,132.70 L1298.55,130.02 L1298.89,126.27 L1299.30,121.84 L1299.75,117.16 L1300.23,112.61 L1300.70,108.60 L1301.18,105.03 L1301.68,101.57 L1302.21,98.24 L1302.75,95.09 L1303.32,92.16 L1303.90,89.50 L1304.46,87.15 L1305.00,85.09 L1305.55,83.26 L1306.17,81.57 L1306.90,79.98 L1307.80,78.40 L1308.88,76.84 L1310.10,75.36 L1311.43,73.97 L1312.85,72.67 L1314.32,71.48 L1315.80,70.40 L1317.44,69.43 L1319.30,68.56 L1321.20,67.80 L1322.99,67.15 L1324.51,66.61 L1325.60,66.20 L1325.78,67.46 L1326.01,69.15 L1326.30,71.18 L1326.62,73.46 L1326.96,75.93 L1327.30,78.50 L1327.65,81.34 L1328.03,84.55 L1328.42,87.94 L1328.84,91.32 L1329.26,94.50 L1329.70,97.30 L1330.14,99.74 L1330.59,101.99 L1331.04,104.03 L1331.53,105.88 L1332.04,107.54 L1332.60,109.00 L1333.18,110.20 L1333.77,111.13 L1334.39,111.86 L1335.07,112.48 L1335.83,113.07 L1336.70,113.70 L1337.66,114.36 L1338.68,114.99 L1339.79,115.58 L1341.00,116.14 L1342.33,116.68 L1343.80,117.20 L1345.60,117.72 L1347.73,118.23 L1349.99,118.72 L1352.16,119.16 L1354.00,119.53 L1355.30,119.80 L1355.51,118.10 L1355.79,115.73 L1356.12,112.93 L1356.49,109.94 L1356.89,106.98 L1357.30,104.30 L1357.71,101.80 L1358.13,99.29 L1358.58,96.81 L1359.07,94.43 L1359.60,92.20 L1360.20,90.20 L1360.85,88.40 L1361.54,86.77 L1362.29,85.29 L1363.09,83.97 L1363.96,82.80 L1364.90,81.80 L1365.91,81.00 L1366.96,80.42 L1368.09,80.00 L1369.29,79.68 L1370.59,79.40 L1372.00,79.10 L1373.67,78.80 L1375.64,78.54 L1377.69,78.33 L1379.65,78.16 L1381.32,78.01 L1382.50,77.90 L1382.69,78.84 L1382.95,80.11 L1383.26,81.64 L1383.60,83.31 L1383.95,85.03 L1384.30,86.70 L1384.65,88.40 L1385.00,90.23 L1385.37,92.11 L1385.76,93.97 L1386.17,95.72 L1386.60,97.30 L1387.03,98.72 L1387.44,100.03 L1387.88,101.24 L1388.37,102.36 L1388.93,103.38 L1389.60,104.30 L1390.35,105.11 L1391.15,105.80 L1392.03,106.40 L1393.01,106.92 L1394.12,107.38 L1395.40,107.80 L1397.01,108.17 L1398.97,108.47 L1401.06,108.72 L1403.07,108.91 L1404.79,109.07 L1406.00,109.20 L1406.19,108.43 L1406.45,107.37 L1406.76,106.12 L1407.10,104.75 L1407.45,103.35 L1407.80,102.00 L1408.13,100.65 L1408.46,99.22 L1408.81,97.76 L1409.18,96.32 L1409.61,94.95 L1410.10,93.70 L1410.64,92.54 L1411.22,91.43 L1411.85,90.39 L1412.54,89.44 L1413.32,88.61 L1414.20,87.90 L1415.16,87.35 L1416.20,86.94 L1417.31,86.64 L1418.53,86.42 L1419.85,86.25 L1421.30,86.10 L1423.05,86.00 L1425.11,85.97 L1427.29,85.99 L1429.37,86.03 L1431.15,86.08 L1432.40,86.10 L1432.66,86.81 L1433.00,87.79 L1433.42,88.95 L1433.87,90.20 L1434.34,91.45 L1434.80,92.60 L1435.23,93.71 L1435.66,94.87 L1436.11,96.02 L1436.58,97.12 L1437.11,98.13 L1437.70,99.00 L1438.26,99.73 L1438.74,100.36 L1439.28,100.90 L1439.98,101.35 L1440.98,101.71 L1442.40,102.00 L1444.51,102.17 L1447.28,102.22 L1450.34,102.19 L1453.34,102.11 L1455.91,102.03 L1457.70,102.00 L1457.93,101.48 L1458.23,100.76 L1458.59,99.91 L1459.01,99.00 L1459.49,98.10 L1460.00,97.30 L1460.54,96.55 L1461.10,95.78 L1461.72,95.03 L1462.41,94.33 L1463.19,93.71 L1464.10,93.20 L1465.12,92.81 L1466.24,92.53 L1467.46,92.33 L1468.77,92.18 L1470.18,92.08 L1471.70,92.00 L1473.49,91.97 L1475.58,92.00 L1477.78,92.08 L1479.86,92.17 L1481.64,92.25 L1482.90,92.30 L1483.09,92.37 L1483.36,92.46 L1483.67,92.57 L1484.01,92.72 L1484.36,92.92 L1484.70,93.20 L1485.06,93.60 L1485.46,94.13 L1485.86,94.71 L1486.24,95.27 L1486.57,95.76 L1486.80,96.10" fill="none" stroke="#0a14f0" stroke-width="1.8" stroke-linejoin="round" stroke-linecap="round"/>
<rect x="1160.30" y="191.70" width="367.70" height="113.90" fill="#fdd3c3" />
<line x1="1160.30" y1="191.70" x2="1160.30" y2="305.60" stroke="#000" stroke-width="1.2" />
<line x1="1160.30" y1="305.60" x2="1528.00" y2="305.60" stroke="#000" stroke-width="1.2" />
<line x1="1160.30" y1="286.10" x2="1156.30" y2="286.10" stroke="#000" stroke-width="1.2" />
<text x="1154.0" y="291.3" font-family="Liberation Sans" font-size="16" fill="#000" text-anchor="end">-0.02</text>
<line x1="1160.30" y1="259.10" x2="1156.30" y2="259.10" stroke="#000" stroke-width="1.2" />
<text x="1154.0" y="264.3" font-family="Liberation Sans" font-size="16" fill="#000" text-anchor="end">0.00</text>
<line x1="1160.30" y1="232.10" x2="1156.30" y2="232.10" stroke="#000" stroke-width="1.2" />
<text x="1154.0" y="237.3" font-family="Liberation Sans" font-size="16" fill="#000" text-anchor="end">0.02</text>
<line x1="1160.30" y1="205.10" x2="1156.30" y2="205.10" stroke="#000" stroke-width="1.2" />
<text x="1154.0" y="210.3" font-family="Liberation Sans" font-size="16" fill="#000" text-anchor="end">0.04</text>
<line x1="1160.30" y1="299.60" x2="1157.80" y2="299.60" stroke="#000" stroke-width="1.2" />
<line x1="1160.30" y1="272.60" x2="1157.80" y2="272.60" stroke="#000" stroke-width="1.2" />
<line x1="1160.30" y1="245.60" x2="1157.80" y2="245.60" stroke="#000" stroke-width="1.2" />
<line x1="1160.30" y1="218.60" x2="1157.80" y2="218.60" stroke="#000" stroke-width="1.2" />
<line x1="1190.80" y1="305.60" x2="1190.80" y2="308.60" stroke="#000" stroke-width="1.2" />
<text x="1190.8" y="325.5" font-family="Liberation Sans" font-size="16" fill="#000" text-anchor="middle">0</text>
<line x1="1251.69" y1="305.60" x2="1251.69" y2="308.60" stroke="#000" stroke-width="1.2" />
<text x="1251.7" y="325.5" font-family="Liberation Sans" font-size="16" fill="#000" text-anchor="middle">2000</text>
<line x1="1312.58" y1="305.60" x2="1312.58" y2="308.60" stroke="#000" stroke-width="1.2" />
<text x="1312.6" y="325.5" font-family="Liberation Sans" font-size="16" fill="#000" text-anchor="middle">4000</text>
<line x1="1373.47" y1="305.60" x2="1373.47" y2="308.60" stroke="#000" stroke-width="1.2" />
<text x="1373.5" y="325.5" font-family="Liberation Sans" font-size="16" fill="#000" text-anchor="middle">6000</text>
<line x1="1434.36" y1="305.60" x2="1434.36" y2="308.60" stroke="#000" stroke-width="1.2" />
<text x="1434.4" y="325.5" font-family="Liberation Sans" font-size="16" fill="#000" text-anchor="middle">8000</text>
<line x1="1495.25" y1="305.60" x2="1495.25" y2="308.60" stroke="#000" stroke-width="1.2" />
<text x="1495.2" y="325.5" font-family="Liberation Sans" font-size="16" fill="#000" text-anchor="middle">10000</text>
<line x1="1160.36" y1="305.60" x2="1160.36" y2="307.60" stroke="#000" stroke-width="1.2" />
<line x1="1221.24" y1="305.60" x2="1221.24" y2="307.60" stroke="#000" stroke-width="1.2" />
<line x1="1282.13" y1="305.60" x2="1282.13" y2="307.60" stroke="#000" stroke-width="1.2" />
<line x1="1343.02" y1="305.60" x2="1343.02" y2="307.60" stroke="#000" stroke-width="1.2" />
<line x1="1403.91" y1="305.60" x2="1403.91" y2="307.60" stroke="#000" stroke-width="1.2" />
<line x1="1464.80" y1="305.60" x2="1464.80" y2="307.60" stroke="#000" stroke-width="1.2" />
<line x1="1525.69" y1="305.60" x2="1525.69" y2="307.60" stroke="#000" stroke-width="1.2" />
<text x="1172.0" y="205.4" font-family="Liberation Sans" font-size="14" fill="#ff1010" font-weight="bold" textLength="99.2" lengthAdjust="spacingAndGlyphs">T-PhNP-1.5M</text>
<text transform="translate(1110.6,251.6) rotate(-90)" text-anchor="middle" font-family="Liberation Sans" font-size="14" fill="#000" textLength="70.4" lengthAdjust="spacingAndGlyphs">Voltage (V)</text>
<text x="1312.2" y="342.0" font-family="Liberation Sans" font-size="17" fill="#000" textLength="62.7" lengthAdjust="spacingAndGlyphs">Time (s)</text>
<path d="M1190.30,259.40 L1190.71,259.40 L1191.27,259.41 L1191.94,259.42 L1192.65,259.42 L1193.36,259.42 L1194.00,259.40 L1194.62,259.36 L1195.28,259.31 L1195.93,259.25 L1196.53,259.19 L1197.03,259.14 L1197.40,259.10 L1197.54,257.67 L1197.74,255.71 L1197.97,253.39 L1198.23,250.83 L1198.51,248.19 L1198.80,245.60 L1199.09,242.93 L1199.40,240.04 L1199.72,237.06 L1200.08,234.14 L1200.47,231.40 L1200.90,229.00 L1201.37,226.94 L1201.86,225.10 L1202.38,223.46 L1202.96,221.97 L1203.59,220.59 L1204.30,219.30 L1205.09,218.09 L1205.96,217.00 L1206.88,216.03 L1207.86,215.17 L1208.87,214.43 L1209.90,213.80 L1210.98,213.31 L1212.13,212.98 L1213.31,212.76 L1214.50,212.61 L1215.68,212.50 L1216.80,212.40 L1217.95,212.32 L1219.15,212.30 L1220.33,212.31 L1221.42,212.35 L1222.33,212.38 L1223.00,212.40 L1223.14,213.91 L1223.34,215.88 L1223.57,218.27 L1223.83,221.04 L1224.11,224.17 L1224.40,227.60 L1224.70,231.56 L1225.03,236.11 L1225.37,241.02 L1225.73,246.02 L1226.11,250.86 L1226.50,255.30 L1226.90,259.42 L1227.30,263.44 L1227.72,267.31 L1228.17,270.96 L1228.66,274.34 L1229.20,277.40 L1229.78,280.12 L1230.39,282.56 L1231.04,284.72 L1231.74,286.63 L1232.53,288.32 L1233.40,289.80 L1234.36,291.02 L1235.40,291.96 L1236.51,292.66 L1237.70,293.20 L1238.96,293.63 L1240.30,294.00 L1241.85,294.27 L1243.66,294.37 L1245.53,294.36 L1247.31,294.30 L1248.82,294.22 L1249.90,294.20 L1250.20,291.82 L1250.63,288.44 L1251.13,284.48 L1251.66,280.34 L1252.20,276.45 L1252.70,273.20 L1253.18,270.68 L1253.66,268.59 L1254.15,266.73 L1254.63,264.93 L1255.08,263.01 L1255.50,260.80 L1255.87,258.22 L1256.20,255.40 L1256.50,252.46 L1256.80,249.53 L1257.13,246.73 L1257.50,244.20 L1257.90,241.92 L1258.30,239.79 L1258.73,237.79 L1259.19,235.91 L1259.71,234.16 L1260.30,232.50 L1260.96,230.94 L1261.67,229.49 L1262.44,228.14 L1263.27,226.93 L1264.16,225.84 L1265.10,224.90 L1266.10,224.13 L1267.17,223.52 L1268.29,223.04 L1269.47,222.67 L1270.70,222.37 L1272.00,222.10 L1273.48,221.90 L1275.18,221.80 L1276.93,221.77 L1278.59,221.79 L1280.00,221.80 L1281.00,221.80 L1281.22,223.90 L1281.52,226.77 L1281.88,230.19 L1282.27,233.93 L1282.69,237.77 L1283.10,241.50 L1283.52,245.28 L1283.96,249.33 L1284.42,253.48 L1284.90,257.57 L1285.39,261.43 L1285.90,264.90 L1286.40,268.00 L1286.89,270.88 L1287.39,273.53 L1287.94,275.95 L1288.56,278.14 L1289.30,280.10 L1290.11,281.80 L1290.95,283.24 L1291.87,284.46 L1292.91,285.47 L1294.11,286.30 L1295.50,287.00 L1297.28,287.48 L1299.46,287.72 L1301.79,287.78 L1304.03,287.75 L1305.95,287.70 L1307.30,287.70 L1307.45,285.65 L1307.64,282.80 L1307.88,279.44 L1308.14,275.84 L1308.42,272.30 L1308.70,269.10 L1308.98,266.17 L1309.27,263.26 L1309.57,260.41 L1309.90,257.65 L1310.27,255.00 L1310.70,252.50 L1311.18,250.13 L1311.71,247.85 L1312.28,245.69 L1312.88,243.67 L1313.52,241.80 L1314.20,240.10 L1314.90,238.57 L1315.63,237.20 L1316.39,235.98 L1317.20,234.91 L1318.06,233.99 L1319.00,233.20 L1320.00,232.60 L1321.04,232.19 L1322.14,231.93 L1323.31,231.76 L1324.56,231.64 L1325.90,231.50 L1327.47,231.38 L1329.29,231.31 L1331.18,231.29 L1332.98,231.30 L1334.51,231.30 L1335.60,231.30 L1335.77,232.66 L1335.99,234.50 L1336.26,236.69 L1336.56,239.14 L1336.88,241.71 L1337.20,244.30 L1337.53,247.04 L1337.87,250.06 L1338.23,253.21 L1338.60,256.34 L1338.99,259.32 L1339.40,262.00 L1339.82,264.41 L1340.25,266.67 L1340.70,268.78 L1341.17,270.72 L1341.67,272.50 L1342.20,274.10 L1342.74,275.51 L1343.29,276.73 L1343.86,277.79 L1344.48,278.70 L1345.19,279.50 L1346.00,280.20 L1346.90,280.79 L1347.86,281.24 L1348.90,281.58 L1350.04,281.82 L1351.30,281.99 L1352.70,282.10 L1354.41,282.11 L1356.46,282.00 L1358.62,281.82 L1360.69,281.61 L1362.45,281.42 L1363.70,281.30 L1363.81,280.10 L1363.94,278.48 L1364.11,276.54 L1364.31,274.37 L1364.54,272.06 L1364.80,269.70 L1365.09,267.11 L1365.41,264.19 L1365.76,261.12 L1366.14,258.11 L1366.55,255.37 L1367.00,253.10 L1367.47,251.33 L1367.97,249.91 L1368.49,248.76 L1369.07,247.78 L1369.70,246.89 L1370.40,246.00 L1371.08,245.13 L1371.71,244.34 L1372.39,243.64 L1373.25,243.04 L1374.38,242.52 L1375.90,242.10 L1378.08,241.80 L1380.90,241.63 L1383.99,241.56 L1387.01,241.53 L1389.60,241.53 L1391.40,241.50 L1391.63,242.77 L1391.95,244.53 L1392.33,246.61 L1392.75,248.84 L1393.18,251.06 L1393.60,253.10 L1394.01,255.02 L1394.42,256.98 L1394.84,258.93 L1395.29,260.81 L1395.77,262.58 L1396.30,264.20 L1396.85,265.68 L1397.41,267.06 L1398.01,268.32 L1398.66,269.48 L1399.38,270.51 L1400.20,271.40 L1401.08,272.15 L1401.99,272.74 L1402.98,273.22 L1404.09,273.59 L1405.34,273.88 L1406.80,274.10 L1408.65,274.22 L1410.90,274.21 L1413.31,274.12 L1415.63,273.99 L1417.61,273.87 L1419.00,273.80 L1419.11,272.72 L1419.24,271.20 L1419.41,269.41 L1419.61,267.53 L1419.84,265.74 L1420.10,264.20 L1420.36,262.91 L1420.63,261.74 L1420.92,260.65 L1421.28,259.61 L1421.73,258.61 L1422.30,257.60 L1423.01,256.56 L1423.85,255.50 L1424.77,254.47 L1425.76,253.51 L1426.78,252.67 L1427.80,252.00 L1428.67,251.52 L1429.39,251.19 L1430.13,250.99 L1431.09,250.86 L1432.45,250.78 L1434.40,250.70 L1437.31,250.65 L1441.11,250.66 L1445.31,250.72 L1449.42,250.79 L1452.95,250.86 L1455.40,250.90 L1455.64,251.50 L1455.96,252.34 L1456.34,253.33 L1456.77,254.40 L1457.23,255.48 L1457.70,256.50 L1458.18,257.51 L1458.69,258.57 L1459.22,259.64 L1459.78,260.68 L1460.37,261.65 L1461.00,262.50 L1461.63,263.24 L1462.26,263.91 L1462.92,264.51 L1463.65,265.03 L1464.46,265.50 L1465.40,265.90 L1466.47,266.24 L1467.64,266.51 L1468.90,266.71 L1470.24,266.86 L1471.65,266.95 L1473.10,267.00 L1474.75,266.97 L1476.63,266.84 L1478.58,266.67 L1480.42,266.48 L1481.99,266.31 L1483.10,266.20 L1483.27,265.61 L1483.50,264.79 L1483.78,263.82 L1484.09,262.80 L1484.40,261.79 L1484.70,260.90 L1485.02,260.06 L1485.38,259.20 L1485.75,258.37 L1486.10,257.61 L1486.39,256.97 L1486.60,256.50" fill="none" stroke="#ff1010" stroke-width="1.8" stroke-linejoin="round" stroke-linecap="round"/>
<text x="1459.8" y="93.2" font-family="Liberation Sans" font-size="33" fill="#1010e8" textLength="97.4" lengthAdjust="spacingAndGlyphs">P-type</text>
<text x="1458.3" y="244.8" font-family="Liberation Sans" font-size="33" fill="#ff1010" textLength="102.3" lengthAdjust="spacingAndGlyphs">N-type</text>
<line x1="1482.30" y1="112.00" x2="1482.30" y2="198.00" stroke="#000" stroke-width="2.8" />
<polygon points="1482.3,101.5 1488.3,114.0 1476.3,114.0" fill="#000" />
<polygon points="1482.3,208.5 1488.3,196.0 1476.3,196.0" fill="#000" />
<path d="M1099,390 L1106,387 L1110,389 L1116,385 L1124,383" fill="none" stroke="#8090e8" stroke-width="0.9" opacity="0.45"/>
<path d="M1099,452 L1104,455 L1108,454 L1113,460 L1117,462" fill="none" stroke="#e0a8b8" stroke-width="0.9" opacity="0.45"/>
<path d="M1099,607 L1108,604 L1113,606 L1120,601 L1128,600 L1134,597 L1141,596" fill="none" stroke="#8090e8" stroke-width="0.9" opacity="0.45"/>
<path d="M1099,636 L1106,641 L1112,645 L1118,652 L1125,655 L1132,658" fill="none" stroke="#e0a8b8" stroke-width="0.9" opacity="0.45"/>
<path d="M1104,645 L1110,640 L1116,642" fill="none" stroke="#e0a8b8" stroke-width="0.9" opacity="0.45"/>
<defs>
<radialGradient id="gsph" cx="0.38" cy="0.35" r="0.7">
 <stop offset="0" stop-color="#d2f28c"/><stop offset="0.45" stop-color="#98d44c"/><stop offset="0.85" stop-color="#5e9e2a"/><stop offset="1" stop-color="#3f7a1c"/></radialGradient>
<radialGradient id="msph" cx="0.38" cy="0.35" r="0.7">
 <stop offset="0" stop-color="#ff9cff"/><stop offset="0.45" stop-color="#ee36ee"/><stop offset="0.85" stop-color="#c010c0"/><stop offset="1" stop-color="#8a0a8a"/></radialGradient>
<radialGradient id="osph" cx="0.38" cy="0.35" r="0.7">
 <stop offset="0" stop-color="#ffc080"/><stop offset="0.5" stop-color="#ee7a22"/><stop offset="1" stop-color="#8a3a08"/></radialGradient>
<radialGradient id="ysph" cx="0.38" cy="0.35" r="0.7">
 <stop offset="0" stop-color="#f8e070"/><stop offset="0.6" stop-color="#c89a18"/><stop offset="1" stop-color="#7a5a08"/></radialGradient>
<radialGradient id="yglow" cx="0.5" cy="0.5" r="0.5">
 <stop offset="0.45" stop-color="#fff0b8" stop-opacity="0.9"/><stop offset="1" stop-color="#fff0b8" stop-opacity="0"/></radialGradient>
<radialGradient id="gglow" cx="0.5" cy="0.5" r="0.5">
 <stop offset="0.4" stop-color="#48dc48" stop-opacity="0.9"/><stop offset="0.7" stop-color="#70d890" stop-opacity="0.45"/><stop offset="1" stop-color="#60e060" stop-opacity="0"/></radialGradient>
<radialGradient id="cglow" cx="0.5" cy="0.5" r="0.5">
 <stop offset="0.35" stop-color="#30c0f8" stop-opacity="0.95"/><stop offset="1" stop-color="#60d0ff" stop-opacity="0"/></radialGradient>
<linearGradient id="arrowgrad" x1="0" y1="0" x2="1" y2="0">
 <stop offset="0" stop-color="#ee1010"/><stop offset="0.12" stop-color="#e01818"/><stop offset="0.35" stop-color="#986060"/><stop offset="0.55" stop-color="#40a8a8"/><stop offset="0.75" stop-color="#10dede"/><stop offset="0.88" stop-color="#1080d8"/><stop offset="1" stop-color="#1030b8"/></linearGradient>
<linearGradient id="redpad" x1="0" y1="0" x2="1" y2="1">
 <stop offset="0" stop-color="#f06464"/><stop offset="0.5" stop-color="#de4040"/><stop offset="1" stop-color="#dc2a2a"/></linearGradient>
<linearGradient id="mauve" gradientUnits="userSpaceOnUse" x1="100" y1="0" x2="300" y2="0">
 <stop offset="0" stop-color="#a8949c"/><stop offset="0.35" stop-color="#bc9ca4"/><stop offset="1" stop-color="#c8a6ae"/></linearGradient>
<linearGradient id="bluepad2" gradientUnits="userSpaceOnUse" x1="425" y1="135" x2="495" y2="205">
 <stop offset="0" stop-color="#b8b8ec"/><stop offset="0.5" stop-color="#6c6cd8"/><stop offset="1" stop-color="#2828c0"/></linearGradient>
<linearGradient id="bluepad" x1="0" y1="0" x2="1" y2="1">
 <stop offset="0" stop-color="#7070e0"/><stop offset="0.5" stop-color="#3030c8"/><stop offset="1" stop-color="#2020b0"/></linearGradient>
<linearGradient id="leftface" x1="0" y1="0" x2="1" y2="0">
 <stop offset="0" stop-color="#b4b8bc"/><stop offset="1" stop-color="#dadde2"/></linearGradient>
<linearGradient id="topface" x1="0" y1="0" x2="0" y2="1">
 <stop offset="0" stop-color="#f4f6f8"/><stop offset="0.5" stop-color="#dfe6ee"/><stop offset="1" stop-color="#e8eef4"/></linearGradient>
<linearGradient id="redpad2" x1="0" y1="0" x2="1" y2="1"><stop offset="0" stop-color="#f07070"/><stop offset="0.5" stop-color="#e24a4a"/><stop offset="1" stop-color="#e82020"/></linearGradient>
<linearGradient id="redpadc" x1="0" y1="0" x2="1" y2="1"><stop offset="0" stop-color="#d45a5a"/><stop offset="1" stop-color="#c84646"/></linearGradient>
<linearGradient id="bluepadx2" x1="0" y1="0" x2="1" y2="1"><stop offset="0" stop-color="#8080e8"/><stop offset="1" stop-color="#2a2ac8"/></linearGradient>
<linearGradient id="bluepadxc" x1="0" y1="0" x2="1" y2="1"><stop offset="0" stop-color="#5a5ac8"/><stop offset="1" stop-color="#4444b0"/></linearGradient>
<linearGradient id="behindov" x1="0.2" y1="0.2" x2="0.9" y2="0.9"><stop offset="0" stop-color="#40a8e0" stop-opacity="0"/><stop offset="0.55" stop-color="#40a8e0" stop-opacity="0.55"/><stop offset="1" stop-color="#3890c8" stop-opacity="0.85"/></linearGradient>
<filter id="blur4" x="-50%" y="-50%" width="200%" height="200%"><feGaussianBlur stdDeviation="4"/></filter>
<filter id="blur2" x="-50%" y="-50%" width="200%" height="200%"><feGaussianBlur stdDeviation="2"/></filter>
<filter id="blur1" x="-50%" y="-50%" width="200%" height="200%"><feGaussianBlur stdDeviation="1"/></filter>
</defs>
<g id="pa">
<polygon points="72.0,184.0 131.0,278.0 503.0,209.0 503.0,216.0 131.0,285.0 70.0,190.0" fill="#000" opacity="0.10" filter="url(#blur2)"/>
<polygon points="67.5,173.3 129.9,269.3 501.5,199.5 502.0,206.0 130.5,275.5 66.5,180.0" fill="#b8babd" />
<polygon points="67.5,173.3 129.9,269.3 130.0,272.2 67.0,176.5" fill="#e4e6e8"/>
<polygon points="129.9,269.3 501.5,199.5 501.7,202.5 130.0,272.2" fill="#eceef0"/>
<polygon points="67.5,173.3 129.9,269.3 501.5,199.5 472.5,163.0 101.8,164.6" fill="#eceef0" />
<polygon points="70.5,172.5 104.0,169.0 150.0,262.0 131.5,266.0" fill="url(#redpad)"/>
<polygon points="70.5,172.5 131.5,266.0 133.0,264.5 73.0,172.5" fill="#ff8080" opacity="0.6"/>
<polygon points="427.0,125.0 472.6,161.0 500.5,198.5 456.0,207.5 400.0,150.0" fill="url(#bluepad2)"/>
<polygon points="113.6,101.8 399.3,80.0 472.0,158.6 451.0,216.5 152.8,265.8 101.8,164.6" fill="#eef1f5" opacity="0.55"/>
<polygon points="104.0,168.0 262.0,151.0 310.0,243.0 152.8,265.8" fill="url(#mauve)" opacity="0.95"/>
<polygon points="262.0,151.0 420.0,140.0 440.0,200.0 310.0,243.0" fill="#aab0dc" opacity="0.8"/>
<polygon points="113.6,101.8 399.3,80.0 430.0,115.0 128.0,140.0" fill="url(#topface)" opacity="0.95"/>
<polygon points="125.0,118.0 412.0,96.0 418.0,103.0 127.0,126.0" fill="#d6e2ee" opacity="0.8"/>
<polyline points="113.6,101.8 399.3,80.0" fill="none" stroke="#ffffff" stroke-width="2"/>
<polygon points="113.6,101.8 101.8,164.6 144.7,163.4" fill="url(#leftface)"/>
<polyline points="113.6,101.8 144.7,163.4" fill="none" stroke="#9aa0a8" stroke-width="0.8"/>
<polygon points="399.3,80.0 472.0,158.6 451.0,216.5" fill="#e4e7ec" opacity="0.55"/>
<polyline points="399.3,80.0 472.0,158.6 451.0,216.5" fill="none" stroke="#c8ccd2" stroke-width="1"/>
<polyline points="152.8,265.8 451.0,216.5" fill="none" stroke="#d0d4d8" stroke-width="1.5"/>
<circle cx="132.1" cy="140.8" r="23.6" fill="url(#yglow)"/>
<circle cx="161.1" cy="125.6" r="23.6" fill="url(#yglow)"/>
<circle cx="195.7" cy="124.2" r="23.6" fill="url(#yglow)"/>
<circle cx="152.9" cy="175.3" r="22.0" fill="url(#yglow)"/>
<circle cx="216.4" cy="160.1" r="19.9" fill="url(#yglow)"/>
<circle cx="212.3" cy="180.9" r="23.6" fill="url(#yglow)"/>
<circle cx="244.0" cy="142.2" r="22.0" fill="url(#yglow)"/>
<circle cx="302.1" cy="124.2" r="23.6" fill="url(#yglow)"/>
<circle cx="166.7" cy="232.0" r="24.7" fill="url(#yglow)"/>
<circle cx="210.9" cy="226.4" r="17.1" fill="url(#yglow)"/>
<circle cx="262.0" cy="209.9" r="23.6" fill="url(#yglow)"/>
<circle cx="313.1" cy="207.1" r="24.7" fill="url(#yglow)"/>
<circle cx="295.2" cy="168.4" r="15.8" fill="url(#yglow)"/>
<circle cx="260.6" cy="164.3" r="14.2" fill="url(#yglow)"/>
<circle cx="373.1" cy="104.5" r="22.8" fill="url(#yglow)"/>
<circle cx="378.7" cy="199.8" r="22.8" fill="url(#yglow)"/>
<circle cx="132.1" cy="140.8" r="12.4" fill="url(#gsph)"/>
<circle cx="161.1" cy="125.6" r="12.4" fill="url(#gsph)"/>
<circle cx="195.7" cy="124.2" r="12.4" fill="url(#gsph)"/>
<circle cx="152.9" cy="175.3" r="11.6" fill="url(#gsph)"/>
<circle cx="216.4" cy="160.1" r="10.5" fill="url(#gsph)"/>
<circle cx="212.3" cy="180.9" r="12.4" fill="url(#gsph)"/>
<circle cx="244.0" cy="142.2" r="11.6" fill="url(#gsph)"/>
<circle cx="302.1" cy="124.2" r="12.4" fill="url(#gsph)"/>
<circle cx="166.7" cy="232.0" r="13.0" fill="url(#gsph)"/>
<circle cx="210.9" cy="226.4" r="9.0" fill="url(#gsph)"/>
<circle cx="262.0" cy="209.9" r="12.4" fill="url(#gsph)"/>
<circle cx="313.1" cy="207.1" r="13.0" fill="url(#gsph)"/>
<circle cx="295.2" cy="168.4" r="8.3" fill="url(#gsph)"/>
<circle cx="260.6" cy="164.3" r="7.5" fill="url(#gsph)"/>
<circle cx="373.1" cy="104.5" r="12.0" fill="url(#gsph)"/>
<circle cx="378.7" cy="199.8" r="12.0" fill="url(#gsph)"/>
<path d="M133.5,146.3 C155,148 165,160 170,178 S182,205 200,210" fill="none" stroke="#7a5a08" stroke-width="5.2" stroke-linecap="butt" opacity="0.7"/>
<path d="M133.5,146.3 C155,148 165,160 170,178 S182,205 200,210" fill="none" stroke="#e4c040" stroke-width="3.9" stroke-linecap="butt"/>
<path d="M133.5,146.3 C155,148 165,160 170,178 S182,205 200,210" fill="none" stroke="#fff2a0" stroke-width="1.365" stroke-linecap="butt" opacity="0.8" transform="translate(0,-0.6)"/>
<path d="M158.4,142.2 C180,148 186,165 190,180 S200,200 226,206" fill="none" stroke="#7a5a08" stroke-width="5.2" stroke-linecap="butt" opacity="0.7"/>
<path d="M158.4,142.2 C180,148 186,165 190,180 S200,200 226,206" fill="none" stroke="#e4c040" stroke-width="3.9" stroke-linecap="butt"/>
<path d="M158.4,142.2 C180,148 186,165 190,180 S200,200 226,206" fill="none" stroke="#fff2a0" stroke-width="1.365" stroke-linecap="butt" opacity="0.8" transform="translate(0,-0.6)"/>
<path d="M180.5,145 C205,142 222,140 230,133 S262,120 287,118.7" fill="none" stroke="#7a5a08" stroke-width="5.2" stroke-linecap="butt" opacity="0.7"/>
<path d="M180.5,145 C205,142 222,140 230,133 S262,120 287,118.7" fill="none" stroke="#e4c040" stroke-width="3.9" stroke-linecap="butt"/>
<path d="M180.5,145 C205,142 222,140 230,133 S262,120 287,118.7" fill="none" stroke="#fff2a0" stroke-width="1.365" stroke-linecap="butt" opacity="0.8" transform="translate(0,-0.6)"/>
<path d="M190.2,156 C212,153 226,150 238,140 S272,128 298,129.7" fill="none" stroke="#7a5a08" stroke-width="5.2" stroke-linecap="butt" opacity="0.7"/>
<path d="M190.2,156 C212,153 226,150 238,140 S272,128 298,129.7" fill="none" stroke="#e4c040" stroke-width="3.9" stroke-linecap="butt"/>
<path d="M190.2,156 C212,153 226,150 238,140 S272,128 298,129.7" fill="none" stroke="#fff2a0" stroke-width="1.365" stroke-linecap="butt" opacity="0.8" transform="translate(0,-0.6)"/>
<path d="M201.2,162.9 C225,165 230,178 236,192 S250,222 269,228" fill="none" stroke="#7a5a08" stroke-width="5.2" stroke-linecap="butt" opacity="0.7"/>
<path d="M201.2,162.9 C225,165 230,178 236,192 S250,222 269,228" fill="none" stroke="#e4c040" stroke-width="3.9" stroke-linecap="butt"/>
<path d="M201.2,162.9 C225,165 230,178 236,192 S250,222 269,228" fill="none" stroke="#fff2a0" stroke-width="1.365" stroke-linecap="butt" opacity="0.8" transform="translate(0,-0.6)"/>
<path d="M141.8,190.5 C160,193 166,205 172,222 S188,248 208,252.7" fill="none" stroke="#7a5a08" stroke-width="5.2" stroke-linecap="butt" opacity="0.7"/>
<path d="M141.8,190.5 C160,193 166,205 172,222 S188,248 208,252.7" fill="none" stroke="#e4c040" stroke-width="3.9" stroke-linecap="butt"/>
<path d="M141.8,190.5 C160,193 166,205 172,222 S188,248 208,252.7" fill="none" stroke="#fff2a0" stroke-width="1.365" stroke-linecap="butt" opacity="0.8" transform="translate(0,-0.6)"/>
<path d="M190.2,194.7 C215,192 235,190 245,180 S275,170 295.2,168.4" fill="none" stroke="#7a5a08" stroke-width="5.2" stroke-linecap="butt" opacity="0.7"/>
<path d="M190.2,194.7 C215,192 235,190 245,180 S275,170 295.2,168.4" fill="none" stroke="#e4c040" stroke-width="3.9" stroke-linecap="butt"/>
<path d="M190.2,194.7 C215,192 235,190 245,180 S275,170 295.2,168.4" fill="none" stroke="#fff2a0" stroke-width="1.365" stroke-linecap="butt" opacity="0.8" transform="translate(0,-0.6)"/>
<path d="M199.8,223.7 C225,220 240,215 250,203 S280,197 300.7,196" fill="none" stroke="#7a5a08" stroke-width="5.2" stroke-linecap="butt" opacity="0.7"/>
<path d="M199.8,223.7 C225,220 240,215 250,203 S280,197 300.7,196" fill="none" stroke="#e4c040" stroke-width="3.9" stroke-linecap="butt"/>
<path d="M199.8,223.7 C225,220 240,215 250,203 S280,197 300.7,196" fill="none" stroke="#fff2a0" stroke-width="1.365" stroke-linecap="butt" opacity="0.8" transform="translate(0,-0.6)"/>
<path d="M246.8,132.5 C270,140 272,160 278,178 S290,196 311.7,198.8" fill="none" stroke="#7a5a08" stroke-width="5.2" stroke-linecap="butt" opacity="0.7"/>
<path d="M246.8,132.5 C270,140 272,160 278,178 S290,196 311.7,198.8" fill="none" stroke="#e4c040" stroke-width="3.9" stroke-linecap="butt"/>
<path d="M246.8,132.5 C270,140 272,160 278,178 S290,196 311.7,198.8" fill="none" stroke="#fff2a0" stroke-width="1.365" stroke-linecap="butt" opacity="0.8" transform="translate(0,-0.6)"/>
<path d="M251,169.8 C270,176 275,190 282,210 S295,230 314.5,233.4" fill="none" stroke="#7a5a08" stroke-width="5.2" stroke-linecap="butt" opacity="0.7"/>
<path d="M251,169.8 C270,176 275,190 282,210 S295,230 314.5,233.4" fill="none" stroke="#e4c040" stroke-width="3.9" stroke-linecap="butt"/>
<path d="M251,169.8 C270,176 275,190 282,210 S295,230 314.5,233.4" fill="none" stroke="#fff2a0" stroke-width="1.365" stroke-linecap="butt" opacity="0.8" transform="translate(0,-0.6)"/>
<path d="M295.2,128.4 C320,126 335,118 345,108 S365,100 400,97" fill="none" stroke="#7a5a08" stroke-width="5.2" stroke-linecap="butt" opacity="0.7"/>
<path d="M295.2,128.4 C320,126 335,118 345,108 S365,100 400,97" fill="none" stroke="#e4c040" stroke-width="3.9" stroke-linecap="butt"/>
<path d="M295.2,128.4 C320,126 335,118 345,108 S365,100 400,97" fill="none" stroke="#fff2a0" stroke-width="1.365" stroke-linecap="butt" opacity="0.8" transform="translate(0,-0.6)"/>
<path d="M295.2,143.5 C320,140 335,138 350,133 S380,126 410,128" fill="none" stroke="#7a5a08" stroke-width="5.2" stroke-linecap="butt" opacity="0.7"/>
<path d="M295.2,143.5 C320,140 335,138 350,133 S380,126 410,128" fill="none" stroke="#e4c040" stroke-width="3.9" stroke-linecap="butt"/>
<path d="M295.2,143.5 C320,140 335,138 350,133 S380,126 410,128" fill="none" stroke="#fff2a0" stroke-width="1.365" stroke-linecap="butt" opacity="0.8" transform="translate(0,-0.6)"/>
<path d="M306,182 C330,180 345,175 355,165 S380,158 420,163" fill="none" stroke="#7a5a08" stroke-width="5.2" stroke-linecap="butt" opacity="0.7"/>
<path d="M306,182 C330,180 345,175 355,165 S380,158 420,163" fill="none" stroke="#e4c040" stroke-width="3.9" stroke-linecap="butt"/>
<path d="M306,182 C330,180 345,175 355,165 S380,158 420,163" fill="none" stroke="#fff2a0" stroke-width="1.365" stroke-linecap="butt" opacity="0.8" transform="translate(0,-0.6)"/>
<path d="M310,146 C330,152 335,170 338,186 S352,205 373,208" fill="none" stroke="#7a5a08" stroke-width="5.2" stroke-linecap="butt" opacity="0.7"/>
<path d="M310,146 C330,152 335,170 338,186 S352,205 373,208" fill="none" stroke="#e4c040" stroke-width="3.9" stroke-linecap="butt"/>
<path d="M310,146 C330,152 335,170 338,186 S352,205 373,208" fill="none" stroke="#fff2a0" stroke-width="1.365" stroke-linecap="butt" opacity="0.8" transform="translate(0,-0.6)"/>
<path d="M345,135 C370,140 380,155 395,165 S420,178 440,180" fill="none" stroke="#7a5a08" stroke-width="5.2" stroke-linecap="butt" opacity="0.7"/>
<path d="M345,135 C370,140 380,155 395,165 S420,178 440,180" fill="none" stroke="#e4c040" stroke-width="3.9" stroke-linecap="butt"/>
<path d="M345,135 C370,140 380,155 395,165 S420,178 440,180" fill="none" stroke="#fff2a0" stroke-width="1.365" stroke-linecap="butt" opacity="0.8" transform="translate(0,-0.6)"/>
<path d="M350,192 C375,195 395,198 410,205 S430,210 445,210" fill="none" stroke="#7a5a08" stroke-width="5.2" stroke-linecap="butt" opacity="0.7"/>
<path d="M350,192 C375,195 395,198 410,205 S430,210 445,210" fill="none" stroke="#e4c040" stroke-width="3.9" stroke-linecap="butt"/>
<path d="M350,192 C375,195 395,198 410,205 S430,210 445,210" fill="none" stroke="#fff2a0" stroke-width="1.365" stroke-linecap="butt" opacity="0.8" transform="translate(0,-0.6)"/>
<g filter="url(#blur2)">
<circle cx="393.8" cy="89.9" r="11.5" fill="#16b0f0" opacity="0.85"/>
<circle cx="350.5" cy="103.1" r="11.5" fill="#16b0f0" opacity="0.85"/>
<circle cx="402.1" cy="110.0" r="11.5" fill="#16b0f0" opacity="0.85"/>
<circle cx="391.1" cy="110.0" r="11.5" fill="#16b0f0" opacity="0.85"/>
<circle cx="386.9" cy="119.2" r="11.5" fill="#16b0f0" opacity="0.85"/>
<circle cx="411.8" cy="120.5" r="11.5" fill="#16b0f0" opacity="0.85"/>
<circle cx="381.4" cy="126.6" r="11.5" fill="#16b0f0" opacity="0.85"/>
<circle cx="411.8" cy="133.5" r="11.5" fill="#16b0f0" opacity="0.85"/>
<circle cx="428.9" cy="134.1" r="11.5" fill="#16b0f0" opacity="0.85"/>
<circle cx="348.3" cy="139.0" r="11.5" fill="#16b0f0" opacity="0.85"/>
<circle cx="359.3" cy="150.1" r="11.5" fill="#16b0f0" opacity="0.85"/>
<circle cx="382.8" cy="150.1" r="11.5" fill="#16b0f0" opacity="0.85"/>
<circle cx="392.5" cy="150.6" r="11.5" fill="#16b0f0" opacity="0.85"/>
<circle cx="425.6" cy="147.9" r="11.5" fill="#16b0f0" opacity="0.85"/>
<circle cx="311.0" cy="155.1" r="11.5" fill="#16b0f0" opacity="0.85"/>
<circle cx="338.6" cy="157.0" r="11.5" fill="#16b0f0" opacity="0.85"/>
<circle cx="380.0" cy="161.1" r="11.5" fill="#16b0f0" opacity="0.85"/>
<circle cx="403.5" cy="160.6" r="11.5" fill="#16b0f0" opacity="0.85"/>
<circle cx="413.2" cy="160.6" r="11.5" fill="#16b0f0" opacity="0.85"/>
<circle cx="447.7" cy="156.4" r="11.5" fill="#16b0f0" opacity="0.85"/>
<circle cx="364.9" cy="159.8" r="11.5" fill="#16b0f0" opacity="0.85"/>
<circle cx="375.9" cy="169.4" r="11.5" fill="#16b0f0" opacity="0.85"/>
<circle cx="427.0" cy="168.0" r="11.5" fill="#16b0f0" opacity="0.85"/>
<circle cx="420.1" cy="175.5" r="11.5" fill="#16b0f0" opacity="0.85"/>
<circle cx="369.0" cy="176.3" r="11.5" fill="#16b0f0" opacity="0.85"/>
<circle cx="436.7" cy="178.5" r="11.5" fill="#16b0f0" opacity="0.85"/>
<circle cx="449.1" cy="181.8" r="11.5" fill="#16b0f0" opacity="0.85"/>
<circle cx="367.6" cy="187.4" r="11.5" fill="#16b0f0" opacity="0.85"/>
<circle cx="377.3" cy="187.4" r="11.5" fill="#16b0f0" opacity="0.85"/>
<circle cx="388.3" cy="186.5" r="11.5" fill="#16b0f0" opacity="0.85"/>
<circle cx="399.4" cy="180.5" r="11.5" fill="#16b0f0" opacity="0.85"/>
<circle cx="395.2" cy="191.0" r="11.5" fill="#16b0f0" opacity="0.85"/>
<circle cx="409.0" cy="190.4" r="11.5" fill="#16b0f0" opacity="0.85"/>
<circle cx="445.0" cy="198.4" r="11.5" fill="#16b0f0" opacity="0.85"/>
<circle cx="341.4" cy="210.0" r="11.5" fill="#16b0f0" opacity="0.85"/>
<circle cx="395.2" cy="207.3" r="11.5" fill="#16b0f0" opacity="0.85"/>
<circle cx="422.8" cy="206.1" r="11.5" fill="#16b0f0" opacity="0.85"/>
<circle cx="275.3" cy="116.8" r="11.5" fill="#16b0f0" opacity="0.85"/>
<circle cx="267.5" cy="165.7" r="11.5" fill="#16b0f0" opacity="0.85"/>
<circle cx="385" cy="160" r="22" fill="#16b0f0" opacity="0.8"/>
<circle cx="395" cy="125" r="14" fill="#16b0f0" opacity="0.8"/>
<circle cx="380" cy="190" r="16" fill="#16b0f0" opacity="0.8"/>
</g>
<path d="M355,150 C375,152 395,160 410,170 S430,182 445,186" fill="none" stroke="#70d0c0" stroke-width="2.5" opacity="0.6"/>
<path d="M360,182 C380,184 395,188 410,194 S425,198 440,196" fill="none" stroke="#70d0c0" stroke-width="2.5" opacity="0.6"/>
<path d="M340,140 C355,138 370,140 380,150" fill="none" stroke="#70d0c0" stroke-width="2.5" opacity="0.6"/>
<circle cx="393.8" cy="89.9" r="4.6" fill="url(#osph)"/>
<circle cx="350.5" cy="103.1" r="4.6" fill="url(#osph)"/>
<circle cx="402.1" cy="110.0" r="4.6" fill="url(#osph)"/>
<circle cx="391.1" cy="110.0" r="4.6" fill="url(#osph)"/>
<circle cx="391.1" cy="110.0" r="4.7" fill="url(#behindov)"/>
<circle cx="386.9" cy="119.2" r="4.6" fill="url(#osph)"/>
<circle cx="411.8" cy="120.5" r="4.6" fill="url(#osph)"/>
<circle cx="381.4" cy="126.6" r="4.6" fill="url(#osph)"/>
<circle cx="381.4" cy="126.6" r="4.7" fill="url(#behindov)"/>
<circle cx="411.8" cy="133.5" r="4.6" fill="url(#osph)"/>
<circle cx="428.9" cy="134.1" r="4.6" fill="url(#osph)"/>
<circle cx="348.3" cy="139.0" r="4.6" fill="url(#osph)"/>
<circle cx="359.3" cy="150.1" r="4.6" fill="url(#osph)"/>
<circle cx="382.8" cy="150.1" r="4.6" fill="url(#osph)"/>
<circle cx="392.5" cy="150.6" r="4.6" fill="url(#osph)"/>
<circle cx="392.5" cy="150.6" r="4.7" fill="url(#behindov)"/>
<circle cx="425.6" cy="147.9" r="4.6" fill="url(#osph)"/>
<circle cx="311.0" cy="155.1" r="4.6" fill="url(#osph)"/>
<circle cx="338.6" cy="157.0" r="4.6" fill="url(#osph)"/>
<circle cx="380.0" cy="161.1" r="4.6" fill="url(#osph)"/>
<circle cx="403.5" cy="160.6" r="4.6" fill="url(#osph)"/>
<circle cx="403.5" cy="160.6" r="4.7" fill="url(#behindov)"/>
<circle cx="413.2" cy="160.6" r="4.6" fill="url(#osph)"/>
<circle cx="447.7" cy="156.4" r="4.6" fill="url(#osph)"/>
<circle cx="364.9" cy="159.8" r="4.6" fill="url(#osph)"/>
<circle cx="364.9" cy="159.8" r="4.7" fill="url(#behindov)"/>
<circle cx="375.9" cy="169.4" r="4.6" fill="url(#osph)"/>
<circle cx="375.9" cy="169.4" r="4.7" fill="url(#behindov)"/>
<circle cx="427.0" cy="168.0" r="4.6" fill="url(#osph)"/>
<circle cx="420.1" cy="175.5" r="4.6" fill="url(#osph)"/>
<circle cx="420.1" cy="175.5" r="4.7" fill="url(#behindov)"/>
<circle cx="369.0" cy="176.3" r="4.6" fill="url(#osph)"/>
<circle cx="369.0" cy="176.3" r="4.7" fill="url(#behindov)"/>
<circle cx="436.7" cy="178.5" r="4.6" fill="url(#osph)"/>
<circle cx="449.1" cy="181.8" r="4.6" fill="url(#osph)"/>
<circle cx="449.1" cy="181.8" r="4.7" fill="url(#behindov)"/>
<circle cx="367.6" cy="187.4" r="4.6" fill="url(#osph)"/>
<circle cx="367.6" cy="187.4" r="4.7" fill="url(#behindov)"/>
<circle cx="377.3" cy="187.4" r="4.6" fill="url(#osph)"/>
<circle cx="377.3" cy="187.4" r="4.7" fill="url(#behindov)"/>
<circle cx="388.3" cy="186.5" r="4.6" fill="url(#osph)"/>
<circle cx="399.4" cy="180.5" r="4.6" fill="url(#osph)"/>
<circle cx="399.4" cy="180.5" r="4.7" fill="url(#behindov)"/>
<circle cx="395.2" cy="191.0" r="4.6" fill="url(#osph)"/>
<circle cx="409.0" cy="190.4" r="4.6" fill="url(#osph)"/>
<circle cx="445.0" cy="198.4" r="4.6" fill="url(#osph)"/>
<circle cx="341.4" cy="210.0" r="4.6" fill="url(#osph)"/>
<circle cx="395.2" cy="207.3" r="4.6" fill="url(#osph)"/>
<circle cx="422.8" cy="206.1" r="4.6" fill="url(#osph)"/>
<circle cx="275.3" cy="116.8" r="4.6" fill="url(#osph)"/>
<circle cx="267.5" cy="165.7" r="4.6" fill="url(#osph)"/>
</g>
<linearGradient id="ag172" gradientUnits="userSpaceOnUse" x1="172.5" y1="0" x2="368.2" y2="0"><stop offset="0" stop-color="#ee1010"/><stop offset="0.12" stop-color="#e01818"/><stop offset="0.38" stop-color="#946464"/><stop offset="0.58" stop-color="#40a8a8"/><stop offset="0.78" stop-color="#10dede"/><stop offset="0.9" stop-color="#1078d4"/><stop offset="1" stop-color="#1030b0"/></linearGradient>
<polygon points="165.6,52.7 167.2,52.6 167.2,74.8 165.6,74.9" fill="#e81414" />
<polygon points="168.7,52.5 170.9,52.4 170.9,74.6 168.7,74.7" fill="#e81414" />
<polygon points="172.5,52.3 345.7,41.9 345.3,30.8 368.2,51.2 347.4,75.8 345.7,64.1 172.5,74.5" fill="url(#ag172)"/>
<text x="83.3" y="73.0" font-family="Liberation Sans" font-size="30" fill="#ff0000" font-weight="bold" textLength="51.5" lengthAdjust="spacingAndGlyphs">Hot</text>
<text x="400.3" y="58.5" font-family="Liberation Sans" font-size="30" fill="#0000b4" font-weight="bold" textLength="65.0" lengthAdjust="spacingAndGlyphs">Cold</text>
<text x="34.5" y="67.5" font-family="Liberation Sans" font-size="52" fill="#000">a</text>
<circle cx="89.1" cy="306.0" r="20.0" fill="url(#yglow)"/>
<circle cx="89.1" cy="306.0" r="13.3" fill="url(#gsph)"/>
<polygon points="154,289 245,272 276,292 276,300 185,321 154,300" fill="#d6d8da"/>
<polygon points="154,289 245,272 276,292 185,312" fill="#ebedef"/>
<polyline points="160,294 249,278" fill="none" stroke="#b0b2b4" stroke-width="0.8"/>
<polyline points="185,312 276,292" fill="none" stroke="#c6c8ca" stroke-width="1"/>
<path d="M163.2,311.9 C190,308 205,305 212,298 S240,288 271.5,285.2" fill="none" stroke="#7a5a08" stroke-width="4.3" stroke-linecap="butt" opacity="0.7"/>
<path d="M163.2,311.9 C190,308 205,305 212,298 S240,288 271.5,285.2" fill="none" stroke="#e4c040" stroke-width="3" stroke-linecap="butt"/>
<path d="M163.2,311.9 C190,308 205,305 212,298 S240,288 271.5,285.2" fill="none" stroke="#fff2a0" stroke-width="1.0499999999999998" stroke-linecap="butt" opacity="0.8" transform="translate(0,-0.6)"/>
<circle cx="307" cy="300" r="12" fill="url(#cglow)"/>
<circle cx="307" cy="300" r="4.8" fill="url(#osph)"/>
<polygon points="333.2,279.8 399.0,268.3 425.2,295.6 425.2,302.6 357.4,315.0 356.4,309.0" fill="#000" opacity="0.12" filter="url(#blur2)" transform="translate(1,3)"/>
<polygon points="333.2,279.8 399.0,268.3 425.2,295.6 425.2,302.6 357.4,315.0 356.4,309.0" fill="#e2e3e5"/>
<polygon points="333.2,279.8 338.2,277.8 360.4,306.0 356.4,314.0" fill="#b4b6b8"/>
<polygon points="338.2,277.8 399.0,268.3 424.2,295.6 360.4,306.0" fill="url(#redpad2)"/>
<polygon points="345.8,279.8 395.7,272.4 416.3,293.7 364.0,301.8" fill="url(#redpadc)" opacity="0.9" filter="url(#blur1)"/>
<polygon points="435.5,279.8 502.8,267.4 523.0,290.0 523.0,297.0 461.2,313.5 460.2,307.5" fill="#000" opacity="0.12" filter="url(#blur2)" transform="translate(1,3)"/>
<polygon points="435.5,279.8 502.8,267.4 523.0,290.0 523.0,297.0 461.2,313.5 460.2,307.5" fill="#e2e3e5"/>
<polygon points="435.5,279.8 440.5,277.8 464.2,304.5 460.2,312.5" fill="#b4b6b8"/>
<polygon points="440.5,277.8 502.8,267.4 522.0,290.0 464.2,304.5" fill="url(#bluepadx2)"/>
<polygon points="448.0,279.4 499.1,271.3 514.9,288.9 467.5,300.2" fill="url(#bluepadxc)" opacity="0.9" filter="url(#blur1)"/>
<text x="78.1" y="340.7" font-family="Liberation Sans" font-size="15" fill="#111" font-weight="bold" textLength="25.5" lengthAdjust="spacingAndGlyphs">TFSI</text>
<text x="104.0" y="334.0" font-family="Liberation Sans" font-size="10" fill="#111" font-weight="bold">-</text>
<text x="179.5" y="342.4" font-family="Liberation Sans" font-size="15" fill="#111" font-weight="bold" textLength="62.3" lengthAdjust="spacingAndGlyphs">PVDF-HFP</text>
<text x="299.6" y="340.0" font-family="Liberation Sans" font-size="15" fill="#111" font-weight="bold" textLength="17.5" lengthAdjust="spacingAndGlyphs">Na</text>
<text x="317.5" y="334.5" font-family="Liberation Sans" font-size="10" fill="#111" font-weight="bold">+</text>
<text x="364.9" y="340.0" font-family="Liberation Sans" font-size="15" fill="#111" font-weight="bold" textLength="50.4" lengthAdjust="spacingAndGlyphs">Hot pad</text>
<text x="450.9" y="340.0" font-family="Liberation Sans" font-size="15" fill="#111" font-weight="bold" textLength="56.3" lengthAdjust="spacingAndGlyphs">Cold pad</text>
<polygon points="514,117 545.3,86 545.3,101.5 598.6,101.5 598.6,86 629.6,117 598.6,148 598.6,132.6 545.3,132.6 545.3,148" fill="#ff0000" stroke="#ff8a20" stroke-width="0.8"/>
<g transform="translate(577.3,24.5) scale(0.89)">
<polygon points="72.0,184.0 131.0,278.0 503.0,209.0 503.0,216.0 131.0,285.0 70.0,190.0" fill="#000" opacity="0.10" filter="url(#blur2)"/>
<polygon points="67.5,173.3 129.9,269.3 501.5,199.5 502.0,206.0 130.5,275.5 66.5,180.0" fill="#b8babd" />
<polygon points="67.5,173.3 129.9,269.3 130.0,272.2 67.0,176.5" fill="#e4e6e8"/>
<polygon points="129.9,269.3 501.5,199.5 501.7,202.5 130.0,272.2" fill="#eceef0"/>
<polygon points="67.5,173.3 129.9,269.3 501.5,199.5 472.5,163.0 101.8,164.6" fill="#eceef0" />
<polygon points="70.5,172.5 104.0,169.0 150.0,262.0 131.5,266.0" fill="url(#redpad)"/>
<polygon points="70.5,172.5 131.5,266.0 133.0,264.5 73.0,172.5" fill="#ff8080" opacity="0.6"/>
<polygon points="427.0,125.0 472.6,161.0 500.5,198.5 456.0,207.5 400.0,150.0" fill="url(#bluepad2)"/>
<polygon points="113.6,101.8 399.3,80.0 472.0,158.6 451.0,216.5 152.8,265.8 101.8,164.6" fill="#eef1f5" opacity="0.55"/>
<polygon points="104.0,168.0 262.0,151.0 310.0,243.0 152.8,265.8" fill="url(#mauve)" opacity="0.95"/>
<polygon points="262.0,151.0 420.0,140.0 440.0,200.0 310.0,243.0" fill="#aab0dc" opacity="0.8"/>
<polygon points="113.6,101.8 399.3,80.0 430.0,115.0 128.0,140.0" fill="url(#topface)" opacity="0.95"/>
<polygon points="125.0,118.0 412.0,96.0 418.0,103.0 127.0,126.0" fill="#d6e2ee" opacity="0.8"/>
<polyline points="113.6,101.8 399.3,80.0" fill="none" stroke="#ffffff" stroke-width="2"/>
<polygon points="113.6,101.8 101.8,164.6 144.7,163.4" fill="url(#leftface)"/>
<polyline points="113.6,101.8 144.7,163.4" fill="none" stroke="#9aa0a8" stroke-width="0.8"/>
<polygon points="399.3,80.0 472.0,158.6 451.0,216.5" fill="#e4e7ec" opacity="0.55"/>
<polyline points="399.3,80.0 472.0,158.6 451.0,216.5" fill="none" stroke="#c8ccd2" stroke-width="1"/>
<polyline points="152.8,265.8 451.0,216.5" fill="none" stroke="#d0d4d8" stroke-width="1.5"/>
</g>
<circle cx="893.0" cy="113.5" r="20.7" fill="url(#yglow)"/>
<circle cx="912.3" cy="119.6" r="18.0" fill="url(#yglow)"/>
<circle cx="938.5" cy="127.3" r="17.1" fill="url(#yglow)"/>
<circle cx="848.8" cy="134.2" r="19.8" fill="url(#yglow)"/>
<circle cx="915.0" cy="157.7" r="20.7" fill="url(#yglow)"/>
<circle cx="963.4" cy="154.9" r="20.7" fill="url(#yglow)"/>
<circle cx="927.5" cy="172.9" r="18.0" fill="url(#yglow)"/>
<circle cx="949.6" cy="200.5" r="20.7" fill="url(#yglow)"/>
<circle cx="971.7" cy="196.4" r="18.0" fill="url(#yglow)"/>
<circle cx="891.6" cy="214.3" r="15.3" fill="url(#yglow)"/>
<circle cx="915.0" cy="203.3" r="18.0" fill="url(#yglow)"/>
<circle cx="697.4" cy="168.7" r="23" fill="url(#gglow)" opacity="0.95"/>
<circle cx="734.7" cy="163.2" r="23" fill="url(#gglow)" opacity="0.95"/>
<circle cx="783.1" cy="156.3" r="23" fill="url(#gglow)" opacity="0.95"/>
<circle cx="828.7" cy="148.0" r="23" fill="url(#gglow)" opacity="0.95"/>
<circle cx="870.1" cy="141.1" r="23" fill="url(#gglow)" opacity="0.95"/>
<circle cx="918.4" cy="134.2" r="23" fill="url(#gglow)" opacity="0.95"/>
<circle cx="715.4" cy="195.0" r="23" fill="url(#gglow)" opacity="0.95"/>
<circle cx="758.2" cy="185.3" r="23" fill="url(#gglow)" opacity="0.95"/>
<circle cx="805.2" cy="179.8" r="23" fill="url(#gglow)" opacity="0.95"/>
<circle cx="850.8" cy="171.5" r="23" fill="url(#gglow)" opacity="0.95"/>
<circle cx="893.6" cy="164.0" r="23" fill="url(#gglow)" opacity="0.95"/>
<circle cx="941.9" cy="157.7" r="23" fill="url(#gglow)" opacity="0.95"/>
<circle cx="737.5" cy="218.5" r="23" fill="url(#gglow)" opacity="0.95"/>
<circle cx="776.2" cy="214.3" r="23" fill="url(#gglow)" opacity="0.95"/>
<circle cx="824.5" cy="208.8" r="23" fill="url(#gglow)" opacity="0.95"/>
<circle cx="870.1" cy="197.7" r="23" fill="url(#gglow)" opacity="0.95"/>
<circle cx="917.0" cy="190.8" r="23" fill="url(#gglow)" opacity="0.95"/>
<circle cx="962.6" cy="183.9" r="23" fill="url(#gglow)" opacity="0.95"/>
<g filter="url(#blur2)" opacity="0.55">
<circle cx="716" cy="178" r="7" fill="#30b8e0"/>
<circle cx="742" cy="205" r="7" fill="#30b8e0"/>
<circle cx="760" cy="176" r="7" fill="#30b8e0"/>
<circle cx="790" cy="197" r="7" fill="#30b8e0"/>
<circle cx="812" cy="165" r="7" fill="#30b8e0"/>
<circle cx="800" cy="222" r="7" fill="#30b8e0"/>
<circle cx="835" cy="190" r="7" fill="#30b8e0"/>
<circle cx="858" cy="160" r="7" fill="#30b8e0"/>
<circle cx="880" cy="182" r="7" fill="#30b8e0"/>
<circle cx="905" cy="150" r="7" fill="#30b8e0"/>
</g>
<path d="M718.9,152.2 C740,150 760,148 780,140 S810,128 830.8,125.9" fill="none" stroke="#7a5a08" stroke-width="4.3" stroke-linecap="butt" opacity="0.7"/>
<path d="M718.9,152.2 C740,150 760,148 780,140 S810,128 830.8,125.9" fill="none" stroke="#e4c040" stroke-width="3.0" stroke-linecap="butt"/>
<path d="M718.9,152.2 C740,150 760,148 780,140 S810,128 830.8,125.9" fill="none" stroke="#fff2a0" stroke-width="1.0499999999999998" stroke-linecap="butt" opacity="0.8" transform="translate(0,-0.6)"/>
<path d="M746.5,170.1 C760,168 775,167 790.7,166" fill="none" stroke="#7a5a08" stroke-width="4.3" stroke-linecap="butt" opacity="0.7"/>
<path d="M746.5,170.1 C760,168 775,167 790.7,166" fill="none" stroke="#e4c040" stroke-width="3.0" stroke-linecap="butt"/>
<path d="M746.5,170.1 C760,168 775,167 790.7,166" fill="none" stroke="#fff2a0" stroke-width="1.0499999999999998" stroke-linecap="butt" opacity="0.8" transform="translate(0,-0.6)"/>
<path d="M696.8,156.3 C710,160 716,170 720,185 S730,215 740,228 S750,245 763.1,251.6" fill="none" stroke="#7a5a08" stroke-width="4.3" stroke-linecap="butt" opacity="0.7"/>
<path d="M696.8,156.3 C710,160 716,170 720,185 S730,215 740,228 S750,245 763.1,251.6" fill="none" stroke="#e4c040" stroke-width="3.0" stroke-linecap="butt"/>
<path d="M696.8,156.3 C710,160 716,170 720,185 S730,215 740,228 S750,245 763.1,251.6" fill="none" stroke="#fff2a0" stroke-width="1.0499999999999998" stroke-linecap="butt" opacity="0.8" transform="translate(0,-0.6)"/>
<path d="M749.3,197.7 C765,195 778,190 790.7,186.7" fill="none" stroke="#7a5a08" stroke-width="4.3" stroke-linecap="butt" opacity="0.7"/>
<path d="M749.3,197.7 C765,195 778,190 790.7,186.7" fill="none" stroke="#e4c040" stroke-width="3.0" stroke-linecap="butt"/>
<path d="M749.3,197.7 C765,195 778,190 790.7,186.7" fill="none" stroke="#fff2a0" stroke-width="1.0499999999999998" stroke-linecap="butt" opacity="0.8" transform="translate(0,-0.6)"/>
<path d="M754.8,225.4 C770,222 790,218 807.3,214.3" fill="none" stroke="#7a5a08" stroke-width="4.3" stroke-linecap="butt" opacity="0.7"/>
<path d="M754.8,225.4 C770,222 790,218 807.3,214.3" fill="none" stroke="#e4c040" stroke-width="3.0" stroke-linecap="butt"/>
<path d="M754.8,225.4 C770,222 790,218 807.3,214.3" fill="none" stroke="#fff2a0" stroke-width="1.0499999999999998" stroke-linecap="butt" opacity="0.8" transform="translate(0,-0.6)"/>
<path d="M785.2,219.8 C795,224 800,228 810.1,232.3" fill="none" stroke="#7a5a08" stroke-width="4.3" stroke-linecap="butt" opacity="0.7"/>
<path d="M785.2,219.8 C795,224 800,228 810.1,232.3" fill="none" stroke="#e4c040" stroke-width="3.0" stroke-linecap="butt"/>
<path d="M785.2,219.8 C795,224 800,228 810.1,232.3" fill="none" stroke="#fff2a0" stroke-width="1.0499999999999998" stroke-linecap="butt" opacity="0.8" transform="translate(0,-0.6)"/>
<path d="M818.4,181.2 C828,190 832,200 838,212 S848,228 858.4,233.6" fill="none" stroke="#7a5a08" stroke-width="4.3" stroke-linecap="butt" opacity="0.7"/>
<path d="M818.4,181.2 C828,190 832,200 838,212 S848,228 858.4,233.6" fill="none" stroke="#e4c040" stroke-width="3.0" stroke-linecap="butt"/>
<path d="M818.4,181.2 C828,190 832,200 838,212 S848,228 858.4,233.6" fill="none" stroke="#fff2a0" stroke-width="1.0499999999999998" stroke-linecap="butt" opacity="0.8" transform="translate(0,-0.6)"/>
<path d="M799,142.5 C808,146 812,150 818.4,153.5 S828,162 835,167.3" fill="none" stroke="#7a5a08" stroke-width="4.3" stroke-linecap="butt" opacity="0.7"/>
<path d="M799,142.5 C808,146 812,150 818.4,153.5 S828,162 835,167.3" fill="none" stroke="#e4c040" stroke-width="3.0" stroke-linecap="butt"/>
<path d="M799,142.5 C808,146 812,150 818.4,153.5 S828,162 835,167.3" fill="none" stroke="#fff2a0" stroke-width="1.0499999999999998" stroke-linecap="butt" opacity="0.8" transform="translate(0,-0.6)"/>
<path d="M846,153.5 C858,156 866,160 870,168 S880,190 890,200 S900,208 909.5,210.2" fill="none" stroke="#7a5a08" stroke-width="4.3" stroke-linecap="butt" opacity="0.7"/>
<path d="M846,153.5 C858,156 866,160 870,168 S880,190 890,200 S900,208 909.5,210.2" fill="none" stroke="#e4c040" stroke-width="3.0" stroke-linecap="butt"/>
<path d="M846,153.5 C858,156 866,160 870,168 S880,190 890,200 S900,208 909.5,210.2" fill="none" stroke="#fff2a0" stroke-width="1.0499999999999998" stroke-linecap="butt" opacity="0.8" transform="translate(0,-0.6)"/>
<path d="M851.5,186.7 C868,184 885,180 901.2,175.6" fill="none" stroke="#7a5a08" stroke-width="4.3" stroke-linecap="butt" opacity="0.7"/>
<path d="M851.5,186.7 C868,184 885,180 901.2,175.6" fill="none" stroke="#e4c040" stroke-width="3.0" stroke-linecap="butt"/>
<path d="M851.5,186.7 C868,184 885,180 901.2,175.6" fill="none" stroke="#fff2a0" stroke-width="1.0499999999999998" stroke-linecap="butt" opacity="0.8" transform="translate(0,-0.6)"/>
<path d="M840.5,137 C858,134 872,132 887.4,131.4" fill="none" stroke="#7a5a08" stroke-width="4.3" stroke-linecap="butt" opacity="0.7"/>
<path d="M840.5,137 C858,134 872,132 887.4,131.4" fill="none" stroke="#e4c040" stroke-width="3.0" stroke-linecap="butt"/>
<path d="M840.5,137 C858,134 872,132 887.4,131.4" fill="none" stroke="#fff2a0" stroke-width="1.0499999999999998" stroke-linecap="butt" opacity="0.8" transform="translate(0,-0.6)"/>
<path d="M904,114.9 C915,113 925,112 934.4,112.1" fill="none" stroke="#7a5a08" stroke-width="4.3" stroke-linecap="butt" opacity="0.7"/>
<path d="M904,114.9 C915,113 925,112 934.4,112.1" fill="none" stroke="#e4c040" stroke-width="3.0" stroke-linecap="butt"/>
<path d="M904,114.9 C915,113 925,112 934.4,112.1" fill="none" stroke="#fff2a0" stroke-width="1.0499999999999998" stroke-linecap="butt" opacity="0.8" transform="translate(0,-0.6)"/>
<path d="M890.2,167.3 C905,175 912,190 918,198 S925,205 928.9,206" fill="none" stroke="#7a5a08" stroke-width="4.3" stroke-linecap="butt" opacity="0.7"/>
<path d="M890.2,167.3 C905,175 912,190 918,198 S925,205 928.9,206" fill="none" stroke="#e4c040" stroke-width="3.0" stroke-linecap="butt"/>
<path d="M890.2,167.3 C905,175 912,190 918,198 S925,205 928.9,206" fill="none" stroke="#fff2a0" stroke-width="1.0499999999999998" stroke-linecap="butt" opacity="0.8" transform="translate(0,-0.6)"/>
<path d="M934.4,170.1 C950,175 960,182 970,188 S978,191 981.4,192.2" fill="none" stroke="#7a5a08" stroke-width="4.3" stroke-linecap="butt" opacity="0.7"/>
<path d="M934.4,170.1 C950,175 960,182 970,188 S978,191 981.4,192.2" fill="none" stroke="#e4c040" stroke-width="3.0" stroke-linecap="butt"/>
<path d="M934.4,170.1 C950,175 960,182 970,188 S978,191 981.4,192.2" fill="none" stroke="#fff2a0" stroke-width="1.0499999999999998" stroke-linecap="butt" opacity="0.8" transform="translate(0,-0.6)"/>
<path d="M901.2,139.7 C920,141 935,142 948.2,142.5" fill="none" stroke="#7a5a08" stroke-width="4.3" stroke-linecap="butt" opacity="0.7"/>
<path d="M901.2,139.7 C920,141 935,142 948.2,142.5" fill="none" stroke="#e4c040" stroke-width="3.0" stroke-linecap="butt"/>
<path d="M901.2,139.7 C920,141 935,142 948.2,142.5" fill="none" stroke="#fff2a0" stroke-width="1.0499999999999998" stroke-linecap="butt" opacity="0.8" transform="translate(0,-0.6)"/>
<path d="M760,205 C770,200 785,198 800,200" fill="none" stroke="#7a5a08" stroke-width="4.3" stroke-linecap="butt" opacity="0.7"/>
<path d="M760,205 C770,200 785,198 800,200" fill="none" stroke="#e4c040" stroke-width="3.0" stroke-linecap="butt"/>
<path d="M760,205 C770,200 785,198 800,200" fill="none" stroke="#fff2a0" stroke-width="1.0499999999999998" stroke-linecap="butt" opacity="0.8" transform="translate(0,-0.6)"/>
<path d="M700,200 C712,205 718,210 722,214" fill="none" stroke="#7a5a08" stroke-width="4.3" stroke-linecap="butt" opacity="0.7"/>
<path d="M700,200 C712,205 718,210 722,214" fill="none" stroke="#e4c040" stroke-width="3.0" stroke-linecap="butt"/>
<path d="M700,200 C712,205 718,210 722,214" fill="none" stroke="#fff2a0" stroke-width="1.0499999999999998" stroke-linecap="butt" opacity="0.8" transform="translate(0,-0.6)"/>
<circle cx="893.0" cy="113.5" r="11.5" fill="url(#gsph)"/>
<circle cx="912.3" cy="119.6" r="10.0" fill="url(#gsph)"/>
<circle cx="938.5" cy="127.3" r="9.5" fill="url(#gsph)"/>
<circle cx="848.8" cy="134.2" r="11.0" fill="url(#gsph)"/>
<circle cx="915.0" cy="157.7" r="11.5" fill="url(#gsph)"/>
<circle cx="963.4" cy="154.9" r="11.5" fill="url(#gsph)"/>
<circle cx="927.5" cy="172.9" r="10.0" fill="url(#gsph)"/>
<circle cx="949.6" cy="200.5" r="11.5" fill="url(#gsph)"/>
<circle cx="971.7" cy="196.4" r="10.0" fill="url(#gsph)"/>
<circle cx="891.6" cy="214.3" r="8.5" fill="url(#gsph)"/>
<circle cx="915.0" cy="203.3" r="10.0" fill="url(#gsph)"/>
<circle cx="707.9" cy="169.2" r="4.3" fill="url(#ysph)"/>
<circle cx="695.4" cy="168.7" r="12.2" fill="url(#msph)"/>
<circle cx="745.2" cy="163.7" r="4.3" fill="url(#ysph)"/>
<circle cx="732.7" cy="163.2" r="12.2" fill="url(#msph)"/>
<circle cx="793.6" cy="156.8" r="4.3" fill="url(#ysph)"/>
<circle cx="781.1" cy="156.3" r="12.2" fill="url(#msph)"/>
<circle cx="839.2" cy="148.5" r="4.3" fill="url(#ysph)"/>
<circle cx="826.7" cy="148.0" r="12.2" fill="url(#msph)"/>
<circle cx="880.6" cy="141.6" r="4.3" fill="url(#ysph)"/>
<circle cx="868.1" cy="141.1" r="12.2" fill="url(#msph)"/>
<circle cx="928.9" cy="134.7" r="4.3" fill="url(#ysph)"/>
<circle cx="916.4" cy="134.2" r="12.2" fill="url(#msph)"/>
<circle cx="725.9" cy="195.5" r="4.3" fill="url(#ysph)"/>
<circle cx="713.4" cy="195.0" r="12.2" fill="url(#msph)"/>
<circle cx="768.7" cy="185.8" r="4.3" fill="url(#ysph)"/>
<circle cx="756.2" cy="185.3" r="12.2" fill="url(#msph)"/>
<circle cx="815.7" cy="180.3" r="4.3" fill="url(#ysph)"/>
<circle cx="803.2" cy="179.8" r="12.2" fill="url(#msph)"/>
<circle cx="861.3" cy="172.0" r="4.3" fill="url(#ysph)"/>
<circle cx="848.8" cy="171.5" r="12.2" fill="url(#msph)"/>
<circle cx="904.1" cy="164.5" r="4.3" fill="url(#ysph)"/>
<circle cx="891.6" cy="164.0" r="12.2" fill="url(#msph)"/>
<circle cx="952.4" cy="158.2" r="4.3" fill="url(#ysph)"/>
<circle cx="939.9" cy="157.7" r="12.2" fill="url(#msph)"/>
<circle cx="748.0" cy="219.0" r="4.3" fill="url(#ysph)"/>
<circle cx="735.5" cy="218.5" r="12.2" fill="url(#msph)"/>
<circle cx="786.7" cy="214.8" r="4.3" fill="url(#ysph)"/>
<circle cx="774.2" cy="214.3" r="12.2" fill="url(#msph)"/>
<circle cx="835.0" cy="209.3" r="4.3" fill="url(#ysph)"/>
<circle cx="822.5" cy="208.8" r="12.2" fill="url(#msph)"/>
<circle cx="880.6" cy="198.2" r="4.3" fill="url(#ysph)"/>
<circle cx="868.1" cy="197.7" r="12.2" fill="url(#msph)"/>
<circle cx="927.5" cy="191.3" r="4.3" fill="url(#ysph)"/>
<circle cx="915.0" cy="190.8" r="12.2" fill="url(#msph)"/>
<circle cx="973.1" cy="184.4" r="4.3" fill="url(#ysph)"/>
<circle cx="960.6" cy="183.9" r="12.2" fill="url(#msph)"/>
<g>
<linearGradient id="ag730" gradientUnits="userSpaceOnUse" x1="730.8" y1="0" x2="905.7" y2="0"><stop offset="0" stop-color="#ee1010"/><stop offset="0.12" stop-color="#e01818"/><stop offset="0.38" stop-color="#946464"/><stop offset="0.58" stop-color="#40a8a8"/><stop offset="0.78" stop-color="#10dede"/><stop offset="0.9" stop-color="#1078d4"/><stop offset="1" stop-color="#1030b0"/></linearGradient>
<polygon points="725.2,70.3 726.3,70.3 726.3,90.3 725.2,90.3" fill="#e81414" />
<polygon points="727.4,70.2 729.0,70.1 729.0,90.1 727.4,90.2" fill="#e81414" />
<polygon points="730.8,70.0 885.3,60.9 885.3,50.9 905.7,68.4 887.6,90.4 885.3,80.4 730.8,90.0" fill="url(#ag730)"/>
<text x="651.4" y="88.1" font-family="Liberation Sans" font-size="26" fill="#ff0000" font-weight="bold" textLength="46.0" lengthAdjust="spacingAndGlyphs">Hot</text>
<text x="934.4" y="75.2" font-family="Liberation Sans" font-size="27" fill="#0000b4" font-weight="bold" textLength="58.5" lengthAdjust="spacingAndGlyphs">Cold</text>
<text x="649.5" y="44.0" font-family="Liberation Serif" font-size="26" fill="#ff0000" font-weight="bold" textLength="265.3" lengthAdjust="spacingAndGlyphs">Inhibit cation transport</text>
</g>
<circle cx="656.7" cy="297.6" r="18.0" fill="url(#yglow)"/>
<circle cx="656.7" cy="297.6" r="11.3" fill="url(#gsph)"/>
<polygon points="698.9,282.8 786.3,267.5 810.5,289.6 810.5,296 724.5,315.1 698.9,292" fill="#d6d8da"/>
<polygon points="698.9,282.8 786.3,267.5 810.5,289.6 724.5,307" fill="#ebedef"/>
<polyline points="705,287 790,272" fill="none" stroke="#b0b2b4" stroke-width="0.8"/>
<path d="M711,300.3 C735,297 750,294 756,289 S780,282 797,281.5" fill="none" stroke="#7a5a08" stroke-width="3.9000000000000004" stroke-linecap="butt" opacity="0.7"/>
<path d="M711,300.3 C735,297 750,294 756,289 S780,282 797,281.5" fill="none" stroke="#e4c040" stroke-width="2.6" stroke-linecap="butt"/>
<path d="M711,300.3 C735,297 750,294 756,289 S780,282 797,281.5" fill="none" stroke="#fff2a0" stroke-width="0.9099999999999999" stroke-linecap="butt" opacity="0.8" transform="translate(0,-0.6)"/>
<circle cx="840" cy="293.6" r="19" fill="url(#gglow)" opacity="0.8"/>
<circle cx="852.2" cy="294" r="3.6" fill="url(#ysph)"/>
<circle cx="837.4" cy="293.6" r="11.3" fill="url(#msph)"/>
<polygon points="872.7,276.8 931.5,264.8 955.3,288.2 955.3,295.2 894.8,309.3 893.8,303.3" fill="#000" opacity="0.12" filter="url(#blur2)" transform="translate(1,3)"/>
<polygon points="872.7,276.8 931.5,264.8 955.3,288.2 955.3,295.2 894.8,309.3 893.8,303.3" fill="#e2e3e5"/>
<polygon points="872.7,276.8 877.7,274.8 897.8,300.3 893.8,308.3" fill="#b4b6b8"/>
<polygon points="877.7,274.8 931.5,264.8 954.3,288.2 897.8,300.3" fill="url(#redpad2)"/>
<polygon points="884.5,276.4 928.6,268.6 947.3,286.8 901.0,296.3" fill="url(#redpadc)" opacity="0.9" filter="url(#blur1)"/>
<polygon points="964.1,275.4 1025.5,264.0 1046.7,285.5 1046.7,292.5 986.2,306.6 985.2,300.6" fill="#000" opacity="0.12" filter="url(#blur2)" transform="translate(1,3)"/>
<polygon points="964.1,275.4 1025.5,264.0 1046.7,285.5 1046.7,292.5 986.2,306.6 985.2,300.6" fill="#e2e3e5"/>
<polygon points="964.1,275.4 969.1,273.4 989.2,297.6 985.2,305.6" fill="#b4b6b8"/>
<polygon points="969.1,273.4 1025.5,264.0 1045.7,285.5 989.2,297.6" fill="url(#bluepadx2)"/>
<polygon points="976.0,274.9 1022.2,267.5 1038.8,284.3 992.5,293.8" fill="url(#bluepadxc)" opacity="0.9" filter="url(#blur1)"/>
<text x="646.5" y="330.4" font-family="Liberation Sans" font-size="12.5" fill="#111" font-weight="bold" textLength="23.5" lengthAdjust="spacingAndGlyphs">TFSI</text>
<text x="670.0" y="325.0" font-family="Liberation Sans" font-size="9" fill="#111" font-weight="bold">-</text>
<text x="711.0" y="333.1" font-family="Liberation Sans" font-size="12.5" fill="#111" font-weight="bold" textLength="56.5" lengthAdjust="spacingAndGlyphs">PVDF-HFP</text>
<text x="808.6" y="330.4" font-family="Liberation Sans" font-size="12.5" fill="#111" font-weight="bold" textLength="83.1" lengthAdjust="spacingAndGlyphs">TPFPB trapped</text>
<text x="808.6" y="347.4" font-family="Liberation Sans" font-size="12.5" fill="#111" font-weight="bold" textLength="15.5" lengthAdjust="spacingAndGlyphs">Na</text>
<text x="825.0" y="342.0" font-family="Liberation Sans" font-size="9" fill="#111" font-weight="bold">+</text>
<text x="902.4" y="330.4" font-family="Liberation Sans" font-size="12.5" fill="#111" font-weight="bold" textLength="45.2" lengthAdjust="spacingAndGlyphs">Hot pad</text>
<text x="979.8" y="330.4" font-family="Liberation Sans" font-size="12.5" fill="#111" font-weight="bold" textLength="49.8" lengthAdjust="spacingAndGlyphs">Cold pad</text></svg>
</body></html>
